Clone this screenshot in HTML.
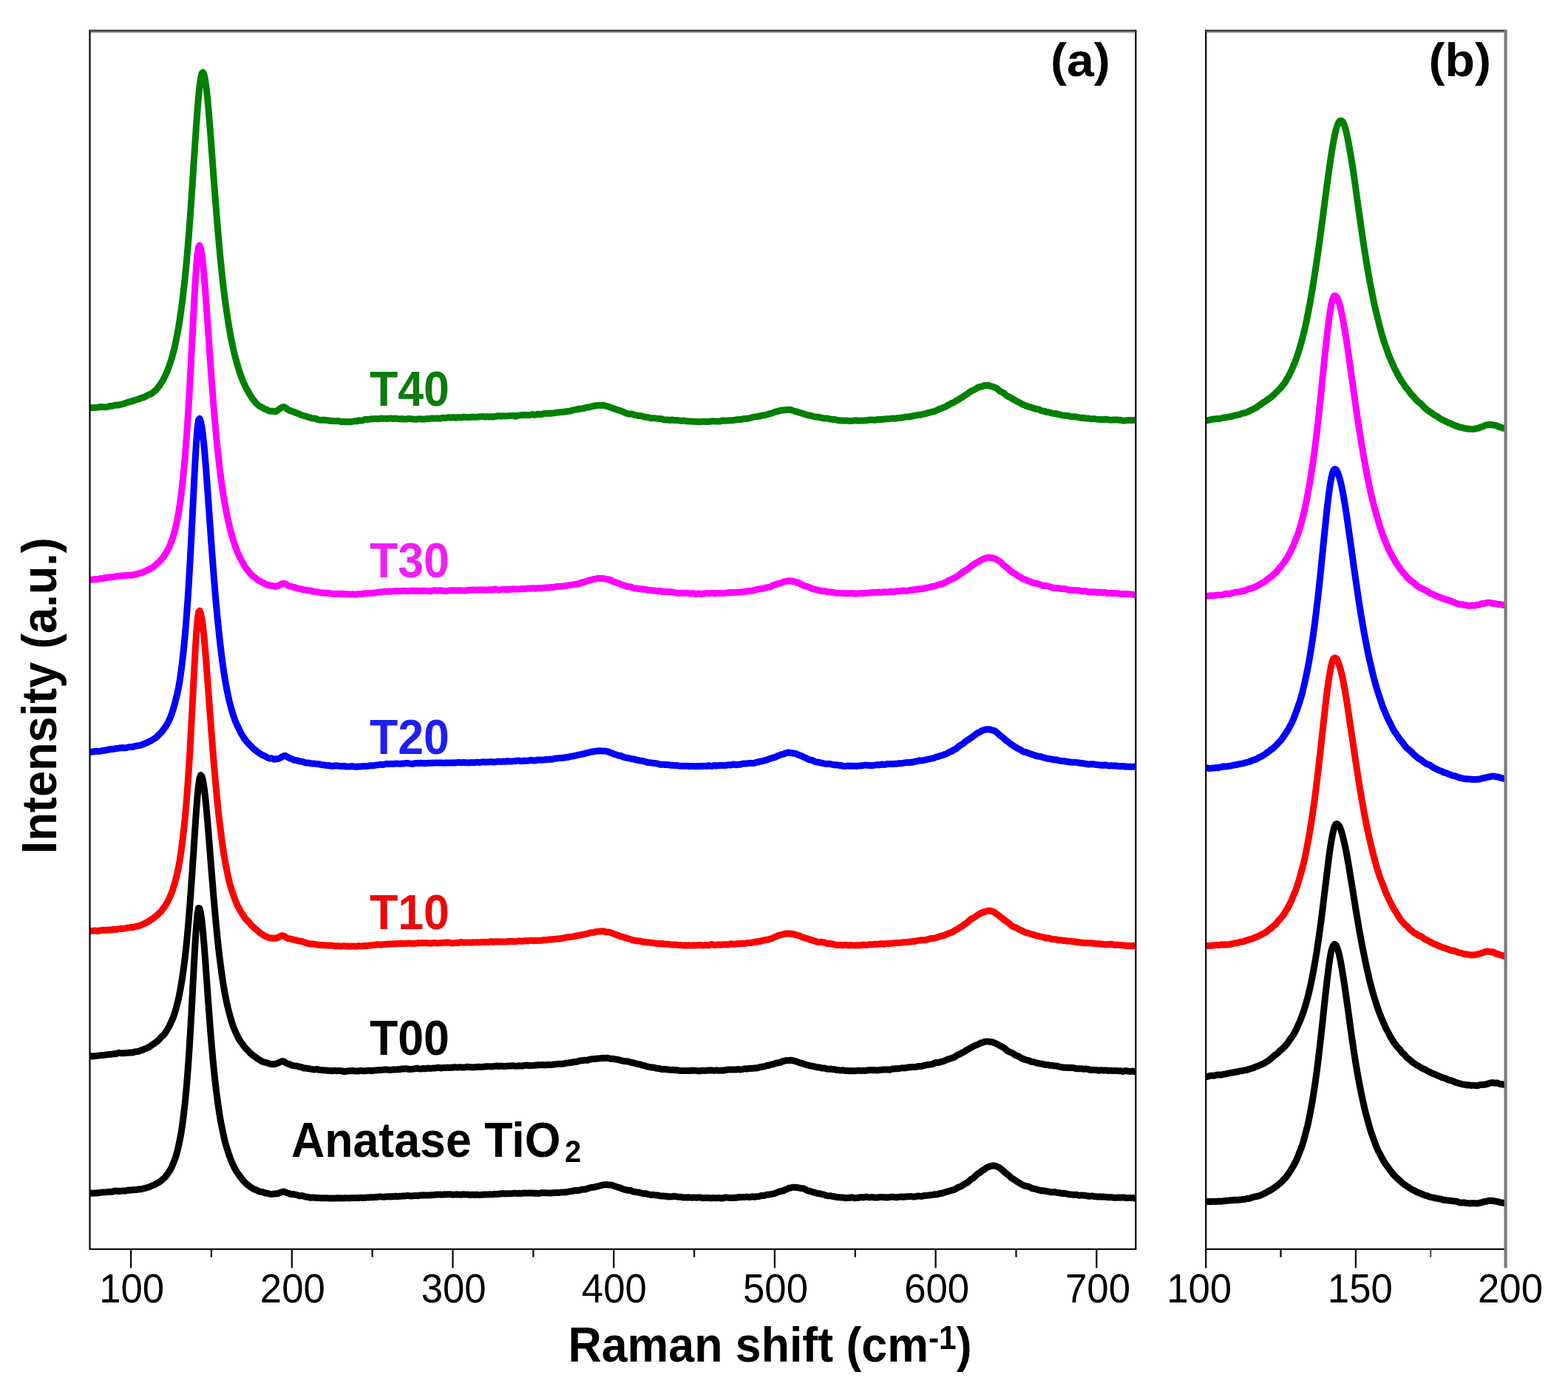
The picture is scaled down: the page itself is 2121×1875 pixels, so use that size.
<!DOCTYPE html>
<html lang="en">
<head>
<meta charset="utf-8">
<title>Raman spectra</title>
<style>
html,body{margin:0;padding:0;background:#fff;}
body{width:2121px;height:1875px;overflow:hidden;font-family:"Liberation Sans",Arial,sans-serif;}
svg{display:block;}
</style>
</head>
<body>
<svg xmlns="http://www.w3.org/2000/svg" width="2121" height="1875" viewBox="0 0 2121 1875">
<defs>
<clipPath id="ca"><rect x="121.5" y="41.5" width="1414.8" height="1648.4"/></clipPath>
<clipPath id="cb"><rect x="1631.2" y="41.5" width="405.39999999999986" height="1648.4"/></clipPath>
</defs>
<rect width="2121" height="1875" fill="#fff"/>
<g clip-path="url(#ca)" fill="none" stroke-width="9.0" stroke-linejoin="round" stroke-linecap="butt">
<path stroke="#000000" d="M118.5 1614.6L120.0 1614.6L121.5 1614.3L123.0 1614.1L124.5 1614.2L126.0 1614.2L127.5 1614.0L129.0 1614.0L130.5 1613.9L132.0 1613.8L133.5 1613.7L135.0 1613.5L136.5 1613.2L138.0 1613.1L139.5 1613.1L141.0 1613.1L142.5 1612.9L144.0 1612.6L145.5 1612.4L147.0 1612.4L148.5 1612.3L150.0 1612.3L151.5 1612.4L153.0 1612.0L154.5 1611.2L156.0 1611.0L157.5 1611.3L159.0 1611.4L160.5 1611.3L162.0 1611.5L163.5 1611.4L165.0 1610.9L166.5 1610.9L168.0 1611.2L169.5 1611.1L171.0 1610.7L172.5 1610.3L174.0 1610.0L175.5 1610.2L177.0 1610.1L178.5 1609.8L180.0 1609.7L181.5 1609.6L183.0 1609.4L184.5 1609.4L186.0 1609.3L187.5 1609.0L189.0 1608.8L190.5 1608.7L192.0 1608.5L193.5 1608.0L195.0 1607.6L196.5 1607.3L198.0 1606.9L199.5 1606.5L201.0 1606.0L202.5 1605.6L204.0 1604.9L205.5 1604.1L207.0 1603.6L208.5 1603.1L210.0 1602.3L211.5 1601.3L213.0 1600.4L214.5 1599.7L216.0 1598.7L217.5 1597.7L219.0 1596.5L220.5 1594.9L222.0 1593.7L223.5 1592.3L225.0 1590.3L226.5 1588.3L228.0 1586.3L229.5 1584.1L231.0 1581.4L232.5 1578.2L234.0 1574.6L235.5 1571.0L237.0 1567.0L238.5 1562.4L240.0 1556.8L241.5 1550.3L243.0 1543.3L244.5 1535.7L246.0 1526.5L247.5 1515.7L249.0 1503.5L250.5 1489.8L252.0 1473.9L253.5 1455.9L255.0 1435.4L256.5 1412.4L258.0 1387.4L259.5 1360.2L261.0 1331.5L262.5 1303.1L264.0 1276.4L265.5 1253.3L267.0 1236.7L268.5 1228.5L270.0 1228.9L271.5 1234.8L273.0 1245.4L274.5 1259.9L276.0 1277.2L277.5 1296.4L279.0 1317.2L280.5 1338.7L282.0 1359.5L283.5 1379.4L285.0 1398.6L286.5 1416.6L288.0 1433.4L289.5 1448.7L291.0 1462.6L292.5 1475.4L294.0 1487.1L295.5 1497.8L297.0 1507.8L298.5 1516.7L300.0 1524.1L301.5 1531.3L303.0 1538.7L304.5 1545.1L306.0 1550.2L307.5 1555.0L309.0 1559.9L310.5 1564.2L312.0 1568.1L313.5 1571.9L315.0 1575.4L316.5 1578.5L318.0 1581.3L319.5 1583.9L321.0 1586.3L322.5 1588.6L324.0 1590.7L325.5 1592.7L327.0 1594.5L328.5 1596.4L330.0 1598.3L331.5 1599.8L333.0 1601.1L334.5 1602.5L336.0 1603.6L337.5 1604.8L339.0 1606.0L340.5 1606.9L342.0 1607.7L343.5 1608.7L345.0 1609.3L346.5 1609.8L348.0 1610.4L349.5 1611.3L351.0 1612.0L352.5 1612.3L354.0 1612.4L355.5 1612.7L357.0 1613.4L358.5 1614.0L360.0 1614.1L361.5 1614.3L363.0 1614.7L364.5 1615.1L366.0 1615.4L367.5 1615.6L369.0 1615.4L370.5 1615.1L372.0 1615.1L373.5 1615.0L375.0 1614.8L376.5 1614.4L378.0 1613.8L379.5 1613.2L381.0 1612.8L382.5 1612.3L384.0 1612.1L385.5 1612.6L387.0 1613.3L388.5 1613.8L390.0 1614.1L391.5 1614.7L393.0 1615.6L394.5 1615.7L396.0 1615.5L397.5 1615.7L399.0 1616.1L400.5 1616.3L402.0 1616.7L403.5 1617.2L405.0 1617.7L406.5 1617.7L408.0 1617.5L409.5 1617.8L411.0 1618.3L412.5 1618.8L414.0 1619.2L415.5 1619.2L417.0 1619.5L418.5 1620.1L420.0 1620.3L421.5 1620.0L423.0 1620.0L424.5 1620.2L426.0 1620.2L427.5 1620.4L429.0 1620.7L430.5 1620.6L432.0 1620.6L433.5 1620.8L435.0 1620.7L436.5 1620.7L438.0 1620.8L439.5 1620.7L441.0 1620.7L442.5 1620.8L444.0 1620.9L445.5 1621.0L447.0 1621.0L448.5 1621.1L450.0 1621.2L451.5 1621.1L453.0 1621.0L454.5 1620.9L456.0 1620.8L457.5 1620.8L459.0 1620.9L460.5 1620.8L462.0 1620.8L463.5 1621.1L465.0 1621.1L466.5 1620.7L468.0 1620.6L469.5 1620.8L471.0 1620.9L472.5 1620.7L474.0 1620.8L475.5 1620.6L477.0 1620.5L478.5 1620.6L480.0 1620.7L481.5 1620.5L483.0 1620.5L484.5 1620.7L486.0 1620.4L487.5 1620.1L489.0 1620.3L490.5 1620.4L492.0 1620.3L493.5 1620.2L495.0 1620.2L496.5 1620.1L498.0 1620.0L499.5 1620.0L501.0 1619.8L502.5 1619.7L504.0 1619.8L505.5 1619.8L507.0 1619.6L508.5 1619.5L510.0 1619.4L511.5 1619.1L513.0 1619.1L514.5 1619.1L516.0 1619.0L517.5 1619.1L519.0 1619.3L520.5 1619.2L522.0 1618.9L523.5 1618.8L525.0 1618.7L526.5 1618.7L528.0 1619.1L529.5 1618.8L531.0 1618.5L532.5 1618.7L534.0 1618.5L535.5 1618.2L537.0 1618.5L538.5 1618.6L540.0 1618.3L541.5 1618.2L543.0 1618.2L544.5 1618.1L546.0 1618.1L547.5 1618.1L549.0 1617.7L550.5 1617.6L552.0 1617.6L553.5 1617.7L555.0 1617.9L556.5 1617.9L558.0 1617.8L559.5 1617.7L561.0 1617.5L562.5 1617.4L564.0 1617.6L565.5 1617.7L567.0 1617.3L568.5 1617.0L570.0 1617.0L571.5 1616.9L573.0 1616.8L574.5 1616.9L576.0 1617.0L577.5 1617.1L579.0 1616.9L580.5 1616.9L582.0 1616.8L583.5 1616.8L585.0 1616.7L586.5 1616.4L588.0 1616.2L589.5 1616.2L591.0 1616.1L592.5 1616.0L594.0 1615.9L595.5 1616.0L597.0 1616.3L598.5 1616.2L600.0 1615.9L601.5 1615.8L603.0 1615.9L604.5 1615.8L606.0 1615.7L607.5 1615.7L609.0 1615.8L610.5 1615.9L612.0 1616.2L613.5 1616.2L615.0 1616.1L616.5 1615.9L618.0 1615.8L619.5 1615.9L621.0 1616.1L622.5 1616.2L624.0 1616.2L625.5 1615.8L627.0 1615.8L628.5 1616.0L630.0 1616.0L631.5 1616.0L633.0 1616.0L634.5 1616.3L636.0 1616.5L637.5 1616.3L639.0 1616.1L640.5 1616.3L642.0 1616.5L643.5 1616.3L645.0 1616.1L646.5 1616.4L648.0 1616.5L649.5 1616.4L651.0 1616.3L652.5 1616.2L654.0 1616.0L655.5 1616.0L657.0 1616.0L658.5 1616.1L660.0 1616.1L661.5 1615.8L663.0 1615.7L664.5 1615.8L666.0 1615.9L667.5 1615.7L669.0 1615.3L670.5 1615.4L672.0 1615.7L673.5 1615.6L675.0 1615.0L676.5 1614.9L678.0 1615.1L679.5 1614.7L681.0 1614.6L682.5 1614.9L684.0 1614.9L685.5 1614.7L687.0 1614.7L688.5 1614.8L690.0 1614.8L691.5 1614.7L693.0 1614.6L694.5 1614.3L696.0 1614.2L697.5 1614.4L699.0 1614.6L700.5 1614.5L702.0 1614.3L703.5 1614.4L705.0 1614.5L706.5 1614.3L708.0 1614.2L709.5 1614.0L711.0 1613.9L712.5 1614.1L714.0 1614.2L715.5 1614.1L717.0 1614.1L718.5 1613.9L720.0 1613.9L721.5 1614.2L723.0 1614.4L724.5 1614.1L726.0 1614.2L727.5 1614.4L729.0 1614.4L730.5 1614.3L732.0 1613.8L733.5 1613.6L735.0 1613.8L736.5 1613.8L738.0 1613.7L739.5 1613.8L741.0 1614.1L742.5 1614.1L744.0 1613.9L745.5 1613.9L747.0 1613.8L748.5 1613.7L750.0 1613.6L751.5 1613.6L753.0 1613.6L754.5 1613.5L756.0 1613.4L757.5 1613.3L759.0 1613.1L760.5 1613.0L762.0 1613.1L763.5 1613.0L765.0 1612.8L766.5 1612.7L768.0 1612.4L769.5 1611.9L771.0 1611.7L772.5 1611.7L774.0 1611.4L775.5 1610.9L777.0 1610.6L778.5 1610.4L780.0 1610.4L781.5 1610.6L783.0 1610.5L784.5 1610.1L786.0 1609.6L787.5 1609.2L789.0 1609.1L790.5 1609.1L792.0 1609.0L793.5 1608.5L795.0 1607.8L796.5 1607.4L798.0 1606.9L799.5 1606.5L801.0 1606.2L802.5 1606.2L804.0 1606.0L805.5 1605.5L807.0 1605.3L808.5 1604.9L810.0 1604.4L811.5 1604.1L813.0 1603.7L814.5 1603.2L816.0 1603.0L817.5 1602.8L819.0 1602.7L820.5 1602.6L822.0 1602.8L823.5 1602.9L825.0 1602.9L826.5 1603.1L828.0 1603.4L829.5 1604.0L831.0 1604.6L832.5 1605.1L834.0 1605.6L835.5 1606.0L837.0 1606.3L838.5 1606.8L840.0 1607.5L841.5 1608.1L843.0 1608.7L844.5 1609.2L846.0 1609.4L847.5 1609.8L849.0 1610.2L850.5 1610.3L852.0 1610.3L853.5 1610.7L855.0 1611.4L856.5 1612.0L858.0 1612.2L859.5 1612.4L861.0 1612.7L862.5 1612.9L864.0 1613.0L865.5 1613.5L867.0 1613.9L868.5 1614.2L870.0 1614.7L871.5 1614.7L873.0 1614.6L874.5 1615.1L876.0 1615.6L877.5 1615.8L879.0 1616.1L880.5 1616.4L882.0 1616.3L883.5 1616.3L885.0 1616.6L886.5 1617.0L888.0 1616.9L889.5 1616.9L891.0 1617.3L892.5 1617.7L894.0 1617.9L895.5 1617.9L897.0 1617.9L898.5 1618.2L900.0 1618.2L901.5 1618.2L903.0 1618.8L904.5 1619.0L906.0 1618.7L907.5 1618.7L909.0 1618.9L910.5 1618.5L912.0 1618.3L913.5 1618.5L915.0 1618.8L916.5 1619.1L918.0 1619.3L919.5 1619.3L921.0 1619.2L922.5 1619.6L924.0 1620.1L925.5 1620.1L927.0 1620.0L928.5 1619.9L930.0 1619.9L931.5 1619.8L933.0 1619.9L934.5 1620.1L936.0 1620.2L937.5 1620.1L939.0 1619.9L940.5 1620.1L942.0 1620.3L943.5 1620.0L945.0 1619.9L946.5 1619.9L948.0 1620.0L949.5 1620.5L951.0 1620.8L952.5 1620.7L954.0 1620.5L955.5 1620.4L957.0 1620.4L958.5 1620.4L960.0 1620.7L961.5 1620.9L963.0 1620.7L964.5 1620.5L966.0 1620.5L967.5 1620.7L969.0 1620.9L970.5 1620.6L972.0 1620.3L973.5 1620.7L975.0 1621.1L976.5 1621.0L978.0 1620.8L979.5 1620.5L981.0 1620.0L982.5 1619.9L984.0 1620.1L985.5 1620.4L987.0 1620.6L988.5 1620.6L990.0 1620.6L991.5 1620.6L993.0 1620.4L994.5 1620.3L996.0 1620.3L997.5 1619.9L999.0 1619.5L1000.5 1619.7L1002.0 1619.7L1003.5 1619.4L1005.0 1619.6L1006.5 1619.6L1008.0 1619.3L1009.5 1619.2L1011.0 1619.3L1012.5 1619.5L1014.0 1619.6L1015.5 1619.3L1017.0 1618.8L1018.5 1618.8L1020.0 1619.2L1021.5 1619.2L1023.0 1618.9L1024.5 1618.7L1026.0 1618.7L1027.5 1618.2L1029.0 1617.7L1030.5 1617.3L1032.0 1617.4L1033.5 1617.5L1035.0 1616.9L1036.5 1616.5L1038.0 1616.2L1039.5 1616.1L1041.0 1616.0L1042.5 1615.6L1044.0 1615.4L1045.5 1615.1L1047.0 1614.7L1048.5 1614.4L1050.0 1613.8L1051.5 1613.0L1053.0 1612.3L1054.5 1611.9L1056.0 1611.5L1057.5 1611.3L1059.0 1611.1L1060.5 1610.5L1062.0 1609.4L1063.5 1608.9L1065.0 1608.4L1066.5 1607.5L1068.0 1607.2L1069.5 1607.0L1071.0 1606.5L1072.5 1606.2L1074.0 1606.2L1075.5 1606.3L1077.0 1606.4L1078.5 1606.5L1080.0 1606.8L1081.5 1607.1L1083.0 1607.5L1084.5 1607.6L1086.0 1607.7L1087.5 1608.1L1089.0 1608.8L1090.5 1609.7L1092.0 1610.6L1093.5 1611.0L1095.0 1611.2L1096.5 1611.6L1098.0 1612.2L1099.5 1612.7L1101.0 1613.0L1102.5 1613.3L1104.0 1614.0L1105.5 1614.4L1107.0 1614.5L1108.5 1614.7L1110.0 1615.1L1111.5 1615.6L1113.0 1615.8L1114.5 1615.9L1116.0 1616.7L1117.5 1617.4L1119.0 1617.6L1120.5 1617.8L1122.0 1617.7L1123.5 1617.7L1125.0 1618.2L1126.5 1618.5L1128.0 1618.6L1129.5 1619.1L1131.0 1619.4L1132.5 1619.5L1134.0 1619.7L1135.5 1619.8L1137.0 1619.9L1138.5 1620.0L1140.0 1620.0L1141.5 1620.2L1143.0 1620.5L1144.5 1620.7L1146.0 1620.6L1147.5 1620.3L1149.0 1620.3L1150.5 1620.2L1152.0 1619.8L1153.5 1620.0L1155.0 1620.5L1156.5 1620.7L1158.0 1620.6L1159.5 1620.4L1161.0 1620.3L1162.5 1620.0L1164.0 1619.7L1165.5 1619.7L1167.0 1619.8L1168.5 1619.9L1170.0 1619.5L1171.5 1619.1L1173.0 1619.2L1174.5 1619.7L1176.0 1619.9L1177.5 1619.7L1179.0 1619.4L1180.5 1619.5L1182.0 1619.9L1183.5 1619.9L1185.0 1620.1L1186.5 1620.2L1188.0 1619.9L1189.5 1619.6L1191.0 1619.5L1192.5 1619.5L1194.0 1619.6L1195.5 1619.7L1197.0 1619.8L1198.5 1620.0L1200.0 1620.0L1201.5 1619.8L1203.0 1619.7L1204.5 1619.4L1206.0 1619.2L1207.5 1619.2L1209.0 1619.3L1210.5 1619.6L1212.0 1619.8L1213.5 1619.7L1215.0 1619.5L1216.5 1619.3L1218.0 1619.1L1219.5 1619.0L1221.0 1619.2L1222.5 1619.2L1224.0 1619.0L1225.5 1618.9L1227.0 1618.7L1228.5 1618.7L1230.0 1618.7L1231.5 1618.6L1233.0 1618.6L1234.5 1618.9L1236.0 1619.0L1237.5 1618.9L1239.0 1618.6L1240.5 1618.2L1242.0 1618.1L1243.5 1618.1L1245.0 1618.3L1246.5 1618.4L1248.0 1618.1L1249.5 1617.7L1251.0 1617.6L1252.5 1617.4L1254.0 1617.2L1255.5 1617.1L1257.0 1617.1L1258.5 1616.7L1260.0 1616.6L1261.5 1616.4L1263.0 1616.0L1264.5 1615.8L1266.0 1615.9L1267.5 1615.8L1269.0 1615.5L1270.5 1614.7L1272.0 1614.3L1273.5 1614.5L1275.0 1614.2L1276.5 1613.5L1278.0 1613.0L1279.5 1612.6L1281.0 1612.2L1282.5 1611.7L1284.0 1611.2L1285.5 1610.7L1287.0 1610.2L1288.5 1610.0L1290.0 1609.8L1291.5 1609.0L1293.0 1608.3L1294.5 1607.3L1296.0 1606.3L1297.5 1605.7L1299.0 1605.2L1300.5 1604.6L1302.0 1603.7L1303.5 1602.5L1305.0 1601.5L1306.5 1600.8L1308.0 1600.2L1309.5 1599.1L1311.0 1597.6L1312.5 1596.1L1314.0 1595.1L1315.5 1594.4L1317.0 1593.2L1318.5 1591.8L1320.0 1590.4L1321.5 1588.8L1323.0 1587.7L1324.5 1587.1L1326.0 1586.0L1327.5 1584.6L1329.0 1583.4L1330.5 1582.7L1332.0 1581.7L1333.5 1580.5L1335.0 1579.5L1336.5 1578.9L1338.0 1578.3L1339.5 1577.8L1341.0 1577.3L1342.5 1577.0L1344.0 1577.0L1345.5 1577.1L1347.0 1577.5L1348.5 1578.1L1350.0 1578.9L1351.5 1579.6L1353.0 1580.6L1354.5 1581.9L1356.0 1583.0L1357.5 1584.2L1359.0 1585.7L1360.5 1587.0L1362.0 1588.2L1363.5 1589.4L1365.0 1590.5L1366.5 1592.1L1368.0 1593.5L1369.5 1594.4L1371.0 1595.2L1372.5 1596.3L1374.0 1597.3L1375.5 1598.3L1377.0 1599.2L1378.5 1600.1L1380.0 1601.1L1381.5 1601.9L1383.0 1602.7L1384.5 1603.5L1386.0 1604.2L1387.5 1604.6L1389.0 1604.8L1390.5 1605.1L1392.0 1605.5L1393.5 1606.3L1395.0 1607.1L1396.5 1607.8L1398.0 1608.1L1399.5 1608.3L1401.0 1608.6L1402.5 1609.1L1404.0 1609.7L1405.5 1610.0L1407.0 1610.3L1408.5 1610.9L1410.0 1610.8L1411.5 1610.7L1413.0 1611.1L1414.5 1611.5L1416.0 1611.6L1417.5 1611.8L1419.0 1612.2L1420.5 1612.5L1422.0 1612.8L1423.5 1612.9L1425.0 1612.6L1426.5 1612.6L1428.0 1612.9L1429.5 1613.3L1431.0 1613.6L1432.5 1613.7L1434.0 1613.8L1435.5 1614.3L1437.0 1614.5L1438.5 1614.3L1440.0 1614.5L1441.5 1614.8L1443.0 1615.0L1444.5 1615.3L1446.0 1615.8L1447.5 1616.0L1449.0 1615.9L1450.5 1616.0L1452.0 1616.4L1453.5 1616.4L1455.0 1616.2L1456.5 1616.3L1458.0 1616.8L1459.5 1617.2L1461.0 1617.2L1462.5 1616.9L1464.0 1616.9L1465.5 1617.2L1467.0 1617.3L1468.5 1617.4L1470.0 1617.8L1471.5 1617.9L1473.0 1618.3L1474.5 1618.3L1476.0 1618.1L1477.5 1618.1L1479.0 1618.2L1480.5 1618.6L1482.0 1618.8L1483.5 1618.8L1485.0 1619.1L1486.5 1619.0L1488.0 1618.8L1489.5 1619.1L1491.0 1619.2L1492.5 1619.1L1494.0 1619.1L1495.5 1619.3L1497.0 1619.6L1498.5 1619.7L1500.0 1619.7L1501.5 1619.8L1503.0 1619.6L1504.5 1619.8L1506.0 1620.2L1507.5 1620.3L1509.0 1620.3L1510.5 1620.2L1512.0 1620.0L1513.5 1620.1L1515.0 1620.2L1516.5 1620.1L1518.0 1620.0L1519.5 1620.0L1521.0 1620.1L1522.5 1620.4L1524.0 1620.7L1525.5 1620.6L1527.0 1620.4L1528.5 1620.6L1530.0 1620.6L1531.5 1620.4L1533.0 1620.7L1534.5 1621.0L1536.0 1621.1L1537.5 1621.2L1539.0 1621.3L1540.5 1621.2"/>
<path stroke="#000000" d="M118.5 1429.1L120.0 1428.9L121.5 1428.6L123.0 1428.5L124.5 1429.0L126.0 1429.1L127.5 1428.7L129.0 1428.6L130.5 1428.4L132.0 1428.2L133.5 1428.1L135.0 1427.9L136.5 1427.6L138.0 1427.4L139.5 1427.4L141.0 1427.3L142.5 1427.1L144.0 1426.8L145.5 1426.6L147.0 1426.4L148.5 1426.4L150.0 1426.3L151.5 1426.1L153.0 1425.8L154.5 1425.5L156.0 1425.7L157.5 1425.6L159.0 1424.8L160.5 1424.3L162.0 1424.4L163.5 1424.7L165.0 1424.8L166.5 1424.8L168.0 1424.7L169.5 1424.5L171.0 1424.4L172.5 1424.3L174.0 1424.2L175.5 1423.9L177.0 1423.8L178.5 1424.0L180.0 1423.9L181.5 1423.3L183.0 1422.8L184.5 1422.7L186.0 1422.6L187.5 1422.3L189.0 1421.7L190.5 1421.0L192.0 1420.7L193.5 1420.2L195.0 1419.2L196.5 1418.7L198.0 1418.2L199.5 1417.4L201.0 1416.8L202.5 1416.1L204.0 1414.9L205.5 1413.6L207.0 1412.7L208.5 1411.8L210.0 1410.7L211.5 1409.5L213.0 1408.4L214.5 1407.1L216.0 1405.4L217.5 1403.6L219.0 1402.1L220.5 1400.9L222.0 1399.4L223.5 1397.4L225.0 1395.0L226.5 1392.5L228.0 1390.0L229.5 1387.1L231.0 1383.7L232.5 1380.5L234.0 1377.2L235.5 1373.0L237.0 1368.2L238.5 1362.9L240.0 1357.1L241.5 1350.9L243.0 1343.7L244.5 1335.5L246.0 1326.5L247.5 1316.6L249.0 1305.6L250.5 1293.3L252.0 1279.4L253.5 1264.1L255.0 1247.0L256.5 1228.4L258.0 1208.3L259.5 1186.9L261.0 1164.5L262.5 1141.4L264.0 1118.5L265.5 1096.9L267.0 1077.7L268.5 1062.4L270.0 1052.5L271.5 1048.5L273.0 1050.1L274.5 1055.7L276.0 1064.9L277.5 1076.9L279.0 1091.7L280.5 1108.7L282.0 1126.7L283.5 1145.5L285.0 1164.6L286.5 1183.4L288.0 1201.8L289.5 1219.8L291.0 1236.7L292.5 1252.7L294.0 1268.1L295.5 1282.1L297.0 1294.7L298.5 1306.5L300.0 1317.6L301.5 1327.8L303.0 1337.2L304.5 1345.7L306.0 1353.1L307.5 1360.0L309.0 1366.3L310.5 1372.1L312.0 1377.5L313.5 1382.6L315.0 1387.3L316.5 1391.3L318.0 1394.7L319.5 1398.0L321.0 1401.3L322.5 1404.4L324.0 1406.9L325.5 1409.1L327.0 1411.1L328.5 1413.2L330.0 1415.3L331.5 1417.2L333.0 1418.9L334.5 1420.4L336.0 1422.0L337.5 1423.6L339.0 1425.2L340.5 1426.5L342.0 1427.6L343.5 1428.6L345.0 1429.7L346.5 1430.7L348.0 1431.8L349.5 1432.9L351.0 1433.8L352.5 1434.8L354.0 1435.7L355.5 1436.4L357.0 1436.8L358.5 1437.1L360.0 1437.6L361.5 1438.1L363.0 1438.4L364.5 1439.0L366.0 1439.3L367.5 1439.5L369.0 1439.8L370.5 1439.8L372.0 1439.4L373.5 1438.9L375.0 1438.5L376.5 1437.9L378.0 1437.0L379.5 1436.5L381.0 1435.9L382.5 1435.5L384.0 1436.0L385.5 1437.0L387.0 1438.1L388.5 1438.9L390.0 1439.2L391.5 1439.7L393.0 1440.4L394.5 1441.0L396.0 1441.6L397.5 1441.8L399.0 1441.9L400.5 1442.0L402.0 1442.2L403.5 1442.7L405.0 1443.3L406.5 1443.4L408.0 1443.7L409.5 1444.4L411.0 1444.9L412.5 1444.9L414.0 1445.0L415.5 1445.4L417.0 1445.5L418.5 1445.8L420.0 1446.2L421.5 1446.4L423.0 1446.6L424.5 1446.9L426.0 1446.9L427.5 1446.5L429.0 1446.5L430.5 1447.1L432.0 1447.6L433.5 1447.6L435.0 1447.5L436.5 1447.7L438.0 1447.9L439.5 1448.0L441.0 1447.9L442.5 1448.0L444.0 1448.4L445.5 1448.4L447.0 1448.3L448.5 1448.7L450.0 1448.7L451.5 1448.2L453.0 1448.2L454.5 1448.6L456.0 1448.7L457.5 1448.4L459.0 1448.4L460.5 1448.8L462.0 1448.8L463.5 1449.0L465.0 1449.6L466.5 1449.7L468.0 1449.3L469.5 1449.0L471.0 1448.8L472.5 1448.6L474.0 1448.7L475.5 1448.7L477.0 1448.5L478.5 1448.6L480.0 1448.9L481.5 1449.1L483.0 1449.1L484.5 1449.0L486.0 1448.7L487.5 1448.4L489.0 1448.3L490.5 1448.6L492.0 1448.9L493.5 1448.8L495.0 1448.7L496.5 1448.4L498.0 1448.3L499.5 1448.2L501.0 1448.3L502.5 1448.7L504.0 1448.6L505.5 1448.1L507.0 1447.9L508.5 1447.9L510.0 1447.8L511.5 1447.8L513.0 1447.6L514.5 1447.5L516.0 1447.4L517.5 1447.3L519.0 1447.1L520.5 1447.0L522.0 1447.0L523.5 1447.1L525.0 1447.2L526.5 1447.4L528.0 1447.5L529.5 1447.4L531.0 1447.1L532.5 1447.0L534.0 1447.0L535.5 1447.1L537.0 1446.9L538.5 1446.6L540.0 1446.7L541.5 1446.6L543.0 1446.0L544.5 1446.0L546.0 1446.1L547.5 1445.8L549.0 1445.8L550.5 1446.0L552.0 1446.3L553.5 1446.5L555.0 1446.6L556.5 1446.4L558.0 1446.2L559.5 1446.1L561.0 1445.8L562.5 1445.5L564.0 1445.2L565.5 1445.5L567.0 1445.9L568.5 1446.1L570.0 1445.9L571.5 1445.6L573.0 1445.5L574.5 1445.8L576.0 1445.7L577.5 1445.3L579.0 1445.1L580.5 1445.2L582.0 1445.4L583.5 1445.3L585.0 1445.1L586.5 1445.1L588.0 1445.1L589.5 1444.8L591.0 1444.5L592.5 1444.3L594.0 1444.3L595.5 1444.9L597.0 1445.0L598.5 1444.5L600.0 1444.5L601.5 1444.5L603.0 1444.4L604.5 1444.3L606.0 1444.3L607.5 1444.4L609.0 1444.3L610.5 1444.3L612.0 1444.3L613.5 1444.0L615.0 1443.7L616.5 1443.9L618.0 1444.1L619.5 1444.1L621.0 1443.9L622.5 1443.7L624.0 1443.9L625.5 1444.0L627.0 1444.0L628.5 1444.1L630.0 1443.7L631.5 1443.3L633.0 1443.3L634.5 1443.6L636.0 1443.7L637.5 1443.7L639.0 1443.8L640.5 1443.9L642.0 1443.7L643.5 1443.4L645.0 1443.4L646.5 1443.4L648.0 1443.2L649.5 1443.4L651.0 1443.6L652.5 1443.4L654.0 1443.1L655.5 1442.9L657.0 1442.8L658.5 1442.7L660.0 1442.8L661.5 1442.7L663.0 1442.7L664.5 1442.9L666.0 1442.8L667.5 1442.6L669.0 1442.5L670.5 1442.1L672.0 1441.9L673.5 1442.3L675.0 1442.5L676.5 1442.3L678.0 1442.1L679.5 1442.2L681.0 1442.4L682.5 1442.5L684.0 1442.4L685.5 1442.2L687.0 1442.0L688.5 1441.9L690.0 1442.0L691.5 1442.0L693.0 1441.8L694.5 1441.7L696.0 1442.1L697.5 1442.3L699.0 1442.1L700.5 1441.9L702.0 1441.8L703.5 1441.9L705.0 1442.1L706.5 1442.1L708.0 1441.7L709.5 1441.3L711.0 1441.2L712.5 1441.1L714.0 1441.2L715.5 1441.6L717.0 1441.5L718.5 1441.4L720.0 1441.6L721.5 1441.4L723.0 1441.1L724.5 1441.2L726.0 1441.1L727.5 1440.7L729.0 1440.6L730.5 1440.8L732.0 1440.8L733.5 1440.5L735.0 1440.8L736.5 1440.9L738.0 1440.7L739.5 1440.6L741.0 1440.5L742.5 1440.3L744.0 1440.4L745.5 1440.5L747.0 1440.2L748.5 1440.1L750.0 1440.1L751.5 1439.8L753.0 1439.6L754.5 1439.3L756.0 1439.3L757.5 1439.4L759.0 1439.2L760.5 1439.2L762.0 1439.3L763.5 1438.8L765.0 1438.3L766.5 1438.1L768.0 1437.9L769.5 1437.8L771.0 1437.6L772.5 1437.5L774.0 1437.2L775.5 1436.7L777.0 1436.5L778.5 1436.5L780.0 1436.5L781.5 1436.0L783.0 1435.3L784.5 1434.9L786.0 1434.8L787.5 1434.8L789.0 1434.5L790.5 1434.3L792.0 1434.2L793.5 1434.3L795.0 1434.2L796.5 1433.6L798.0 1433.2L799.5 1433.0L801.0 1432.6L802.5 1432.4L804.0 1432.4L805.5 1432.5L807.0 1432.2L808.5 1432.0L810.0 1431.9L811.5 1431.8L813.0 1431.6L814.5 1431.4L816.0 1431.3L817.5 1431.4L819.0 1431.4L820.5 1431.2L822.0 1431.3L823.5 1431.7L825.0 1432.1L826.5 1432.4L828.0 1432.3L829.5 1432.4L831.0 1432.6L832.5 1433.0L834.0 1433.3L835.5 1433.4L837.0 1433.8L838.5 1434.2L840.0 1434.6L841.5 1435.0L843.0 1435.4L844.5 1435.7L846.0 1435.8L847.5 1435.8L849.0 1435.9L850.5 1436.3L852.0 1436.8L853.5 1437.3L855.0 1437.5L856.5 1437.7L858.0 1438.3L859.5 1438.6L861.0 1438.9L862.5 1439.5L864.0 1439.8L865.5 1439.8L867.0 1440.3L868.5 1441.0L870.0 1441.3L871.5 1441.6L873.0 1442.1L874.5 1442.7L876.0 1442.9L877.5 1443.3L879.0 1443.6L880.5 1443.8L882.0 1444.0L883.5 1444.2L885.0 1444.3L886.5 1444.7L888.0 1445.2L889.5 1445.3L891.0 1445.4L892.5 1445.7L894.0 1446.4L895.5 1446.6L897.0 1446.4L898.5 1446.3L900.0 1446.4L901.5 1446.8L903.0 1446.9L904.5 1447.0L906.0 1447.4L907.5 1447.5L909.0 1447.3L910.5 1447.3L912.0 1447.5L913.5 1447.7L915.0 1447.7L916.5 1447.7L918.0 1448.2L919.5 1448.4L921.0 1448.6L922.5 1448.6L924.0 1448.4L925.5 1448.5L927.0 1448.6L928.5 1448.6L930.0 1448.5L931.5 1448.4L933.0 1448.4L934.5 1448.3L936.0 1448.2L937.5 1448.1L939.0 1448.3L940.5 1448.3L942.0 1448.4L943.5 1448.5L945.0 1448.8L946.5 1449.0L948.0 1448.6L949.5 1448.2L951.0 1448.3L952.5 1448.4L954.0 1448.4L955.5 1448.2L957.0 1448.1L958.5 1448.1L960.0 1447.9L961.5 1447.8L963.0 1447.9L964.5 1448.2L966.0 1448.3L967.5 1448.1L969.0 1448.0L970.5 1448.1L972.0 1448.3L973.5 1448.3L975.0 1448.1L976.5 1448.0L978.0 1448.2L979.5 1448.1L981.0 1447.7L982.5 1447.4L984.0 1447.1L985.5 1447.1L987.0 1447.1L988.5 1447.1L990.0 1447.1L991.5 1447.1L993.0 1447.1L994.5 1447.1L996.0 1447.0L997.5 1446.6L999.0 1446.6L1000.5 1446.9L1002.0 1446.9L1003.5 1446.6L1005.0 1446.3L1006.5 1445.9L1008.0 1445.7L1009.5 1446.0L1011.0 1446.1L1012.5 1445.6L1014.0 1445.5L1015.5 1445.6L1017.0 1445.2L1018.5 1445.2L1020.0 1445.1L1021.5 1444.8L1023.0 1444.9L1024.5 1444.8L1026.0 1444.2L1027.5 1443.7L1029.0 1443.5L1030.5 1443.1L1032.0 1442.9L1033.5 1443.0L1035.0 1442.5L1036.5 1441.7L1038.0 1441.5L1039.5 1441.4L1041.0 1440.9L1042.5 1440.3L1044.0 1440.0L1045.5 1439.8L1047.0 1439.4L1048.5 1438.7L1050.0 1438.1L1051.5 1438.0L1053.0 1437.7L1054.5 1437.5L1056.0 1437.2L1057.5 1436.2L1059.0 1435.5L1060.5 1435.4L1062.0 1435.1L1063.5 1434.6L1065.0 1434.6L1066.5 1434.8L1068.0 1434.5L1069.5 1434.3L1071.0 1434.5L1072.5 1434.8L1074.0 1435.2L1075.5 1435.5L1077.0 1435.9L1078.5 1436.5L1080.0 1437.0L1081.5 1437.7L1083.0 1438.2L1084.5 1438.4L1086.0 1438.8L1087.5 1439.5L1089.0 1440.0L1090.5 1440.4L1092.0 1440.7L1093.5 1441.2L1095.0 1441.6L1096.5 1442.0L1098.0 1442.1L1099.5 1442.4L1101.0 1442.8L1102.5 1443.0L1104.0 1443.4L1105.5 1443.8L1107.0 1443.9L1108.5 1444.0L1110.0 1444.4L1111.5 1445.0L1113.0 1445.1L1114.5 1444.9L1116.0 1445.2L1117.5 1445.9L1119.0 1446.2L1120.5 1446.2L1122.0 1446.2L1123.5 1446.1L1125.0 1446.4L1126.5 1446.7L1128.0 1446.5L1129.5 1446.8L1131.0 1447.4L1132.5 1447.6L1134.0 1447.6L1135.5 1447.9L1137.0 1448.1L1138.5 1447.9L1140.0 1447.8L1141.5 1448.0L1143.0 1448.3L1144.5 1448.6L1146.0 1448.5L1147.5 1448.5L1149.0 1448.8L1150.5 1448.7L1152.0 1448.6L1153.5 1448.8L1155.0 1448.8L1156.5 1448.7L1158.0 1448.6L1159.5 1448.4L1161.0 1448.2L1162.5 1448.3L1164.0 1448.4L1165.5 1448.4L1167.0 1448.3L1168.5 1448.3L1170.0 1448.6L1171.5 1448.4L1173.0 1447.9L1174.5 1447.8L1176.0 1447.7L1177.5 1447.4L1179.0 1447.7L1180.5 1447.7L1182.0 1447.6L1183.5 1447.7L1185.0 1447.9L1186.5 1448.0L1188.0 1447.8L1189.5 1447.6L1191.0 1447.4L1192.5 1447.2L1194.0 1447.1L1195.5 1447.0L1197.0 1446.9L1198.5 1447.0L1200.0 1447.1L1201.5 1447.0L1203.0 1447.2L1204.5 1447.0L1206.0 1446.3L1207.5 1446.0L1209.0 1446.0L1210.5 1445.8L1212.0 1445.6L1213.5 1445.7L1215.0 1445.6L1216.5 1445.4L1218.0 1445.2L1219.5 1444.9L1221.0 1444.7L1222.5 1444.9L1224.0 1444.8L1225.5 1444.5L1227.0 1444.4L1228.5 1444.0L1230.0 1443.8L1231.5 1443.8L1233.0 1443.5L1234.5 1443.4L1236.0 1443.6L1237.5 1443.6L1239.0 1443.4L1240.5 1442.9L1242.0 1442.4L1243.5 1442.4L1245.0 1442.5L1246.5 1442.5L1248.0 1441.9L1249.5 1441.5L1251.0 1441.3L1252.5 1440.9L1254.0 1440.5L1255.5 1440.4L1257.0 1440.2L1258.5 1440.0L1260.0 1439.9L1261.5 1439.6L1263.0 1438.8L1264.5 1437.9L1266.0 1437.6L1267.5 1437.6L1269.0 1437.6L1270.5 1437.4L1272.0 1436.8L1273.5 1436.2L1275.0 1436.0L1276.5 1435.5L1278.0 1434.9L1279.5 1434.2L1281.0 1433.5L1282.5 1433.0L1284.0 1432.7L1285.5 1432.0L1287.0 1431.6L1288.5 1431.1L1290.0 1430.5L1291.5 1429.8L1293.0 1428.7L1294.5 1427.5L1296.0 1426.8L1297.5 1426.4L1299.0 1425.7L1300.5 1424.7L1302.0 1423.8L1303.5 1423.2L1305.0 1422.5L1306.5 1421.3L1308.0 1420.3L1309.5 1419.6L1311.0 1418.7L1312.5 1417.9L1314.0 1417.1L1315.5 1416.0L1317.0 1415.3L1318.5 1414.6L1320.0 1414.0L1321.5 1413.5L1323.0 1412.9L1324.5 1412.1L1326.0 1411.3L1327.5 1410.6L1329.0 1410.3L1330.5 1409.9L1332.0 1409.3L1333.5 1409.1L1335.0 1409.1L1336.5 1409.0L1338.0 1409.2L1339.5 1409.4L1341.0 1409.5L1342.5 1409.8L1344.0 1410.4L1345.5 1410.9L1347.0 1411.6L1348.5 1412.4L1350.0 1413.3L1351.5 1414.1L1353.0 1414.8L1354.5 1415.5L1356.0 1416.3L1357.5 1417.3L1359.0 1418.4L1360.5 1419.5L1362.0 1420.9L1363.5 1422.0L1365.0 1422.6L1366.5 1423.4L1368.0 1424.1L1369.5 1424.7L1371.0 1425.5L1372.5 1426.7L1374.0 1427.7L1375.5 1428.2L1377.0 1428.6L1378.5 1429.3L1380.0 1430.4L1381.5 1431.4L1383.0 1432.0L1384.5 1432.6L1386.0 1433.3L1387.5 1433.7L1389.0 1434.1L1390.5 1434.4L1392.0 1434.8L1393.5 1435.6L1395.0 1436.3L1396.5 1436.6L1398.0 1436.6L1399.5 1437.0L1401.0 1437.7L1402.5 1438.2L1404.0 1438.5L1405.5 1438.6L1407.0 1438.8L1408.5 1439.1L1410.0 1439.4L1411.5 1439.8L1413.0 1440.2L1414.5 1440.6L1416.0 1440.6L1417.5 1440.6L1419.0 1441.1L1420.5 1441.3L1422.0 1441.2L1423.5 1441.4L1425.0 1441.8L1426.5 1442.1L1428.0 1442.1L1429.5 1442.1L1431.0 1442.6L1432.5 1443.1L1434.0 1443.4L1435.5 1443.4L1437.0 1443.9L1438.5 1444.2L1440.0 1444.1L1441.5 1444.3L1443.0 1444.3L1444.5 1444.4L1446.0 1444.3L1447.5 1444.4L1449.0 1444.3L1450.5 1444.4L1452.0 1444.7L1453.5 1445.0L1455.0 1445.5L1456.5 1445.7L1458.0 1445.7L1459.5 1445.7L1461.0 1445.7L1462.5 1445.7L1464.0 1446.0L1465.5 1446.2L1467.0 1446.2L1468.5 1446.0L1470.0 1446.0L1471.5 1446.4L1473.0 1446.9L1474.5 1447.3L1476.0 1447.5L1477.5 1447.5L1479.0 1447.5L1480.5 1447.5L1482.0 1447.5L1483.5 1447.6L1485.0 1448.0L1486.5 1448.3L1488.0 1447.9L1489.5 1447.7L1491.0 1447.9L1492.5 1447.9L1494.0 1447.9L1495.5 1447.9L1497.0 1448.0L1498.5 1448.4L1500.0 1448.4L1501.5 1448.3L1503.0 1448.3L1504.5 1448.4L1506.0 1448.5L1507.5 1448.5L1509.0 1448.4L1510.5 1448.4L1512.0 1448.6L1513.5 1448.7L1515.0 1448.7L1516.5 1448.8L1518.0 1449.2L1519.5 1449.6L1521.0 1449.1L1522.5 1448.5L1524.0 1448.7L1525.5 1449.1L1527.0 1449.4L1528.5 1449.7L1530.0 1449.4L1531.5 1449.0L1533.0 1449.2L1534.5 1449.5L1536.0 1449.7L1537.5 1449.7L1539.0 1449.5L1540.5 1449.7"/>
<path stroke="#ff0000" d="M118.5 1260.0L120.0 1259.5L121.5 1259.5L123.0 1259.5L124.5 1259.4L126.0 1259.2L127.5 1258.9L129.0 1259.0L130.5 1259.3L132.0 1259.7L133.5 1259.4L135.0 1258.8L136.5 1258.7L138.0 1258.4L139.5 1258.3L141.0 1258.3L142.5 1258.4L144.0 1258.3L145.5 1258.3L147.0 1258.0L148.5 1258.0L150.0 1258.1L151.5 1257.8L153.0 1257.4L154.5 1257.2L156.0 1257.4L157.5 1257.4L159.0 1256.9L160.5 1256.7L162.0 1256.6L163.5 1256.3L165.0 1256.2L166.5 1256.3L168.0 1256.1L169.5 1255.9L171.0 1255.5L172.5 1255.0L174.0 1255.1L175.5 1254.8L177.0 1254.4L178.5 1254.5L180.0 1254.4L181.5 1253.9L183.0 1253.4L184.5 1253.2L186.0 1253.0L187.5 1252.8L189.0 1252.3L190.5 1251.6L192.0 1251.1L193.5 1250.2L195.0 1249.4L196.5 1248.9L198.0 1248.2L199.5 1247.2L201.0 1246.3L202.5 1245.3L204.0 1244.2L205.5 1243.6L207.0 1242.6L208.5 1241.2L210.0 1240.1L211.5 1239.0L213.0 1237.7L214.5 1236.0L216.0 1234.6L217.5 1233.5L219.0 1231.6L220.5 1229.3L222.0 1227.3L223.5 1225.3L225.0 1223.0L226.5 1220.4L228.0 1217.3L229.5 1214.0L231.0 1210.6L232.5 1207.0L234.0 1202.6L235.5 1197.5L237.0 1192.3L238.5 1186.8L240.0 1180.4L241.5 1173.0L243.0 1164.7L244.5 1155.2L246.0 1144.4L247.5 1132.5L249.0 1119.3L250.5 1104.3L252.0 1087.0L253.5 1067.7L255.0 1046.5L256.5 1022.8L258.0 996.7L259.5 968.4L261.0 939.1L262.5 910.2L264.0 882.7L265.5 858.4L267.0 839.5L268.5 828.4L270.0 826.2L271.5 829.6L273.0 836.9L274.5 847.7L276.0 861.6L277.5 878.2L279.0 896.6L280.5 916.4L282.0 937.1L283.5 957.6L285.0 977.5L286.5 996.9L288.0 1016.2L289.5 1034.8L291.0 1052.3L292.5 1068.7L294.0 1084.5L295.5 1099.1L297.0 1112.0L298.5 1124.3L300.0 1135.9L301.5 1146.7L303.0 1156.7L304.5 1165.6L306.0 1173.5L307.5 1180.8L309.0 1187.7L310.5 1194.1L312.0 1199.7L313.5 1204.6L315.0 1209.0L316.5 1213.2L318.0 1217.3L319.5 1221.2L321.0 1224.5L322.5 1227.3L324.0 1230.1L325.5 1232.8L327.0 1235.1L328.5 1237.4L330.0 1240.0L331.5 1242.3L333.0 1243.8L334.5 1245.2L336.0 1246.8L337.5 1248.5L339.0 1250.5L340.5 1252.1L342.0 1253.5L343.5 1254.9L345.0 1256.3L346.5 1257.5L348.0 1258.6L349.5 1260.0L351.0 1261.4L352.5 1262.4L354.0 1263.4L355.5 1264.4L357.0 1265.5L358.5 1266.4L360.0 1267.0L361.5 1267.6L363.0 1268.3L364.5 1268.9L366.0 1269.1L367.5 1269.0L369.0 1269.2L370.5 1269.3L372.0 1269.2L373.5 1269.2L375.0 1268.8L376.5 1268.0L378.0 1267.2L379.5 1266.5L381.0 1265.8L382.5 1265.7L384.0 1266.2L385.5 1267.1L387.0 1268.2L388.5 1269.1L390.0 1269.7L391.5 1269.9L393.0 1270.1L394.5 1270.6L396.0 1271.0L397.5 1271.3L399.0 1271.6L400.5 1272.1L402.0 1272.5L403.5 1272.8L405.0 1273.1L406.5 1273.3L408.0 1273.5L409.5 1273.9L411.0 1274.3L412.5 1275.0L414.0 1275.6L415.5 1275.9L417.0 1276.4L418.5 1276.8L420.0 1276.9L421.5 1277.0L423.0 1277.0L424.5 1277.1L426.0 1277.4L427.5 1277.6L429.0 1277.9L430.5 1278.3L432.0 1278.5L433.5 1278.4L435.0 1278.4L436.5 1278.6L438.0 1278.7L439.5 1278.9L441.0 1279.0L442.5 1279.1L444.0 1279.1L445.5 1279.2L447.0 1279.1L448.5 1279.1L450.0 1279.3L451.5 1279.6L453.0 1280.0L454.5 1280.0L456.0 1279.7L457.5 1279.8L459.0 1279.9L460.5 1279.9L462.0 1280.1L463.5 1279.9L465.0 1279.7L466.5 1279.9L468.0 1280.1L469.5 1280.1L471.0 1280.0L472.5 1280.3L474.0 1280.3L475.5 1279.9L477.0 1279.9L478.5 1280.0L480.0 1280.1L481.5 1280.4L483.0 1280.1L484.5 1279.7L486.0 1279.6L487.5 1279.9L489.0 1280.1L490.5 1279.8L492.0 1279.6L493.5 1279.5L495.0 1279.6L496.5 1279.6L498.0 1279.2L499.5 1279.0L501.0 1279.0L502.5 1278.7L504.0 1278.5L505.5 1278.6L507.0 1278.4L508.5 1278.0L510.0 1277.8L511.5 1277.7L513.0 1277.9L514.5 1278.0L516.0 1277.9L517.5 1277.8L519.0 1277.6L520.5 1277.4L522.0 1277.4L523.5 1277.2L525.0 1277.1L526.5 1277.2L528.0 1277.2L529.5 1276.9L531.0 1276.7L532.5 1277.0L534.0 1277.1L535.5 1276.7L537.0 1276.5L538.5 1276.6L540.0 1276.5L541.5 1276.3L543.0 1276.4L544.5 1276.6L546.0 1276.5L547.5 1276.6L549.0 1276.5L550.5 1276.3L552.0 1276.1L553.5 1275.9L555.0 1276.1L556.5 1276.4L558.0 1276.4L559.5 1276.4L561.0 1276.4L562.5 1276.3L564.0 1276.0L565.5 1275.6L567.0 1275.7L568.5 1275.9L570.0 1275.7L571.5 1275.6L573.0 1275.8L574.5 1275.7L576.0 1275.5L577.5 1275.7L579.0 1275.9L580.5 1276.0L582.0 1276.1L583.5 1276.2L585.0 1275.9L586.5 1275.4L588.0 1275.4L589.5 1275.7L591.0 1275.9L592.5 1275.9L594.0 1275.8L595.5 1275.7L597.0 1275.6L598.5 1275.5L600.0 1275.4L601.5 1275.1L603.0 1275.1L604.5 1275.2L606.0 1275.1L607.5 1275.2L609.0 1275.5L610.5 1275.8L612.0 1276.1L613.5 1275.8L615.0 1275.4L616.5 1275.4L618.0 1275.4L619.5 1275.3L621.0 1275.3L622.5 1274.8L624.0 1274.5L625.5 1274.9L627.0 1275.2L628.5 1275.2L630.0 1274.9L631.5 1274.9L633.0 1275.1L634.5 1274.9L636.0 1275.0L637.5 1275.2L639.0 1275.0L640.5 1274.8L642.0 1274.9L643.5 1274.9L645.0 1274.7L646.5 1274.8L648.0 1275.1L649.5 1275.1L651.0 1274.7L652.5 1274.4L654.0 1274.5L655.5 1274.5L657.0 1274.5L658.5 1274.6L660.0 1274.6L661.5 1274.3L663.0 1274.0L664.5 1273.7L666.0 1274.0L667.5 1274.4L669.0 1274.1L670.5 1273.8L672.0 1273.8L673.5 1274.1L675.0 1274.0L676.5 1273.8L678.0 1274.0L679.5 1274.1L681.0 1274.0L682.5 1273.9L684.0 1274.1L685.5 1274.0L687.0 1273.6L688.5 1273.5L690.0 1273.6L691.5 1273.6L693.0 1273.6L694.5 1273.7L696.0 1273.7L697.5 1273.7L699.0 1273.6L700.5 1273.1L702.0 1272.8L703.5 1273.1L705.0 1273.3L706.5 1273.2L708.0 1273.0L709.5 1272.8L711.0 1272.6L712.5 1272.7L714.0 1272.9L715.5 1272.8L717.0 1272.4L718.5 1272.2L720.0 1272.4L721.5 1272.7L723.0 1272.5L724.5 1272.3L726.0 1272.5L727.5 1272.6L729.0 1272.4L730.5 1272.3L732.0 1272.2L733.5 1272.0L735.0 1271.7L736.5 1271.6L738.0 1271.7L739.5 1271.7L741.0 1271.4L742.5 1270.9L744.0 1271.0L745.5 1271.1L747.0 1270.8L748.5 1270.7L750.0 1270.7L751.5 1270.4L753.0 1270.0L754.5 1269.9L756.0 1270.0L757.5 1269.9L759.0 1269.5L760.5 1269.2L762.0 1269.1L763.5 1268.9L765.0 1268.3L766.5 1268.0L768.0 1267.9L769.5 1267.6L771.0 1267.4L772.5 1267.4L774.0 1267.2L775.5 1266.9L777.0 1266.6L778.5 1266.2L780.0 1265.9L781.5 1265.5L783.0 1265.3L784.5 1265.3L786.0 1264.9L787.5 1264.4L789.0 1264.2L790.5 1264.0L792.0 1263.7L793.5 1263.4L795.0 1263.1L796.5 1262.5L798.0 1262.0L799.5 1261.8L801.0 1261.8L802.5 1261.6L804.0 1261.2L805.5 1260.7L807.0 1260.4L808.5 1260.2L810.0 1260.0L811.5 1260.0L813.0 1259.9L814.5 1259.7L816.0 1259.7L817.5 1260.1L819.0 1260.7L820.5 1261.1L822.0 1261.0L823.5 1260.9L825.0 1261.1L826.5 1261.9L828.0 1262.5L829.5 1263.0L831.0 1263.6L832.5 1264.0L834.0 1264.6L835.5 1265.3L837.0 1265.8L838.5 1266.6L840.0 1267.1L841.5 1267.2L843.0 1267.6L844.5 1268.4L846.0 1268.8L847.5 1269.0L849.0 1269.5L850.5 1270.0L852.0 1270.5L853.5 1271.0L855.0 1271.4L856.5 1271.9L858.0 1272.2L859.5 1272.4L861.0 1272.7L862.5 1273.0L864.0 1273.0L865.5 1273.0L867.0 1273.4L868.5 1273.9L870.0 1274.2L871.5 1274.3L873.0 1274.4L874.5 1274.8L876.0 1275.1L877.5 1275.1L879.0 1275.1L880.5 1275.3L882.0 1275.4L883.5 1275.6L885.0 1275.9L886.5 1276.2L888.0 1276.5L889.5 1276.4L891.0 1276.4L892.5 1276.6L894.0 1276.7L895.5 1276.6L897.0 1276.7L898.5 1277.0L900.0 1277.3L901.5 1277.3L903.0 1277.2L904.5 1277.4L906.0 1277.8L907.5 1278.1L909.0 1278.1L910.5 1278.1L912.0 1278.1L913.5 1278.0L915.0 1278.1L916.5 1278.3L918.0 1278.4L919.5 1278.4L921.0 1278.4L922.5 1278.9L924.0 1279.1L925.5 1278.9L927.0 1278.8L928.5 1279.0L930.0 1278.9L931.5 1278.8L933.0 1279.0L934.5 1279.1L936.0 1279.1L937.5 1279.0L939.0 1278.8L940.5 1278.9L942.0 1278.9L943.5 1278.7L945.0 1278.6L946.5 1278.5L948.0 1278.5L949.5 1278.9L951.0 1278.9L952.5 1278.8L954.0 1278.8L955.5 1278.5L957.0 1278.6L958.5 1279.0L960.0 1278.6L961.5 1277.8L963.0 1277.4L964.5 1277.9L966.0 1278.4L967.5 1278.2L969.0 1278.2L970.5 1278.1L972.0 1278.0L973.5 1278.1L975.0 1278.2L976.5 1278.1L978.0 1277.9L979.5 1277.7L981.0 1277.7L982.5 1277.7L984.0 1278.0L985.5 1278.1L987.0 1277.3L988.5 1276.8L990.0 1277.0L991.5 1277.3L993.0 1277.4L994.5 1277.2L996.0 1276.8L997.5 1276.7L999.0 1276.8L1000.5 1276.6L1002.0 1276.6L1003.5 1276.5L1005.0 1276.5L1006.5 1276.4L1008.0 1276.3L1009.5 1276.0L1011.0 1275.6L1012.5 1275.5L1014.0 1275.5L1015.5 1275.4L1017.0 1275.3L1018.5 1274.9L1020.0 1274.4L1021.5 1274.2L1023.0 1274.1L1024.5 1274.0L1026.0 1273.7L1027.5 1273.6L1029.0 1273.3L1030.5 1272.6L1032.0 1272.2L1033.5 1272.1L1035.0 1271.7L1036.5 1271.2L1038.0 1271.2L1039.5 1271.0L1041.0 1270.3L1042.5 1269.9L1044.0 1269.7L1045.5 1268.9L1047.0 1268.0L1048.5 1267.4L1050.0 1266.9L1051.5 1266.1L1053.0 1265.5L1054.5 1265.2L1056.0 1264.8L1057.5 1264.4L1059.0 1264.1L1060.5 1263.7L1062.0 1263.3L1063.5 1262.9L1065.0 1263.1L1066.5 1263.1L1068.0 1263.0L1069.5 1263.2L1071.0 1263.2L1072.5 1263.4L1074.0 1263.9L1075.5 1264.2L1077.0 1264.7L1078.5 1265.2L1080.0 1265.6L1081.5 1265.9L1083.0 1266.6L1084.5 1267.5L1086.0 1268.1L1087.5 1268.5L1089.0 1269.0L1090.5 1269.5L1092.0 1269.8L1093.5 1270.2L1095.0 1270.9L1096.5 1271.3L1098.0 1271.7L1099.5 1272.2L1101.0 1272.7L1102.5 1273.2L1104.0 1273.8L1105.5 1274.2L1107.0 1274.4L1108.5 1274.4L1110.0 1274.3L1111.5 1274.5L1113.0 1274.7L1114.5 1274.8L1116.0 1275.3L1117.5 1276.1L1119.0 1276.6L1120.5 1276.6L1122.0 1276.5L1123.5 1276.6L1125.0 1276.9L1126.5 1277.2L1128.0 1277.5L1129.5 1277.9L1131.0 1278.4L1132.5 1278.5L1134.0 1278.6L1135.5 1278.4L1137.0 1278.3L1138.5 1278.8L1140.0 1278.9L1141.5 1278.6L1143.0 1278.5L1144.5 1278.4L1146.0 1278.7L1147.5 1279.0L1149.0 1278.9L1150.5 1278.6L1152.0 1278.6L1153.5 1278.9L1155.0 1279.1L1156.5 1279.1L1158.0 1278.8L1159.5 1278.7L1161.0 1279.0L1162.5 1278.8L1164.0 1278.7L1165.5 1278.5L1167.0 1278.1L1168.5 1278.2L1170.0 1278.3L1171.5 1278.5L1173.0 1278.5L1174.5 1278.1L1176.0 1277.7L1177.5 1277.7L1179.0 1277.9L1180.5 1277.7L1182.0 1277.3L1183.5 1277.2L1185.0 1277.5L1186.5 1277.5L1188.0 1277.2L1189.5 1277.1L1191.0 1277.1L1192.5 1276.6L1194.0 1276.8L1195.5 1277.3L1197.0 1277.0L1198.5 1276.6L1200.0 1276.5L1201.5 1276.6L1203.0 1276.3L1204.5 1276.3L1206.0 1276.2L1207.5 1276.0L1209.0 1275.9L1210.5 1275.6L1212.0 1275.5L1213.5 1275.5L1215.0 1275.5L1216.5 1275.5L1218.0 1275.5L1219.5 1275.1L1221.0 1274.8L1222.5 1274.7L1224.0 1274.7L1225.5 1274.7L1227.0 1274.5L1228.5 1274.3L1230.0 1274.1L1231.5 1273.9L1233.0 1273.8L1234.5 1273.5L1236.0 1273.5L1237.5 1273.5L1239.0 1273.0L1240.5 1272.6L1242.0 1272.4L1243.5 1272.1L1245.0 1271.9L1246.5 1271.8L1248.0 1271.8L1249.5 1271.8L1251.0 1271.8L1252.5 1271.5L1254.0 1271.1L1255.5 1270.7L1257.0 1270.3L1258.5 1269.7L1260.0 1269.4L1261.5 1269.5L1263.0 1269.6L1264.5 1269.0L1266.0 1268.6L1267.5 1268.3L1269.0 1267.7L1270.5 1267.0L1272.0 1266.5L1273.5 1266.1L1275.0 1266.0L1276.5 1265.8L1278.0 1265.0L1279.5 1264.2L1281.0 1263.6L1282.5 1263.0L1284.0 1262.3L1285.5 1261.9L1287.0 1261.5L1288.5 1260.8L1290.0 1259.9L1291.5 1258.7L1293.0 1257.9L1294.5 1257.5L1296.0 1256.6L1297.5 1255.3L1299.0 1254.4L1300.5 1253.6L1302.0 1252.6L1303.5 1251.5L1305.0 1250.3L1306.5 1249.3L1308.0 1248.3L1309.5 1247.0L1311.0 1245.4L1312.5 1244.1L1314.0 1243.2L1315.5 1242.3L1317.0 1241.6L1318.5 1240.7L1320.0 1239.6L1321.5 1238.4L1323.0 1237.6L1324.5 1236.8L1326.0 1235.8L1327.5 1235.1L1329.0 1234.5L1330.5 1233.9L1332.0 1233.4L1333.5 1232.9L1335.0 1232.5L1336.5 1232.2L1338.0 1232.0L1339.5 1232.2L1341.0 1232.6L1342.5 1233.0L1344.0 1233.6L1345.5 1234.4L1347.0 1235.7L1348.5 1236.8L1350.0 1237.8L1351.5 1239.0L1353.0 1240.3L1354.5 1241.5L1356.0 1242.4L1357.5 1243.4L1359.0 1245.0L1360.5 1246.1L1362.0 1247.1L1363.5 1248.2L1365.0 1249.3L1366.5 1250.5L1368.0 1251.8L1369.5 1253.1L1371.0 1253.9L1372.5 1254.2L1374.0 1254.9L1375.5 1255.7L1377.0 1256.5L1378.5 1257.4L1380.0 1258.1L1381.5 1258.6L1383.0 1259.3L1384.5 1260.2L1386.0 1261.1L1387.5 1261.6L1389.0 1261.9L1390.5 1262.3L1392.0 1262.7L1393.5 1263.2L1395.0 1263.7L1396.5 1264.2L1398.0 1264.4L1399.5 1264.8L1401.0 1265.5L1402.5 1265.9L1404.0 1266.1L1405.5 1266.5L1407.0 1267.1L1408.5 1267.4L1410.0 1267.7L1411.5 1268.0L1413.0 1268.5L1414.5 1269.1L1416.0 1269.2L1417.5 1268.9L1419.0 1269.0L1420.5 1269.8L1422.0 1270.4L1423.5 1270.6L1425.0 1270.7L1426.5 1270.7L1428.0 1270.8L1429.5 1271.3L1431.0 1271.6L1432.5 1271.7L1434.0 1271.7L1435.5 1271.9L1437.0 1272.2L1438.5 1272.5L1440.0 1272.5L1441.5 1272.5L1443.0 1272.9L1444.5 1273.3L1446.0 1273.3L1447.5 1273.2L1449.0 1273.2L1450.5 1273.6L1452.0 1273.9L1453.5 1273.8L1455.0 1273.9L1456.5 1274.5L1458.0 1274.8L1459.5 1274.8L1461.0 1275.0L1462.5 1275.3L1464.0 1275.4L1465.5 1275.5L1467.0 1275.7L1468.5 1275.8L1470.0 1275.8L1471.5 1275.8L1473.0 1275.8L1474.5 1275.7L1476.0 1275.7L1477.5 1276.1L1479.0 1276.3L1480.5 1276.3L1482.0 1276.5L1483.5 1276.9L1485.0 1276.8L1486.5 1276.7L1488.0 1277.0L1489.5 1277.2L1491.0 1277.2L1492.5 1277.5L1494.0 1277.9L1495.5 1277.8L1497.0 1277.6L1498.5 1277.6L1500.0 1277.7L1501.5 1277.3L1503.0 1277.1L1504.5 1277.5L1506.0 1278.0L1507.5 1278.5L1509.0 1278.4L1510.5 1278.1L1512.0 1278.2L1513.5 1278.5L1515.0 1278.5L1516.5 1278.5L1518.0 1278.7L1519.5 1278.9L1521.0 1279.0L1522.5 1279.2L1524.0 1279.5L1525.5 1279.4L1527.0 1279.3L1528.5 1279.6L1530.0 1279.7L1531.5 1279.5L1533.0 1279.4L1534.5 1279.4L1536.0 1279.6L1537.5 1279.6L1539.0 1279.8L1540.5 1279.8"/>
<path stroke="#0000ff" d="M118.5 1017.4L120.0 1017.5L121.5 1017.7L123.0 1017.4L124.5 1016.9L126.0 1016.8L127.5 1016.8L129.0 1016.5L130.5 1016.3L132.0 1016.3L133.5 1016.4L135.0 1016.4L136.5 1016.1L138.0 1015.6L139.5 1015.4L141.0 1015.3L142.5 1014.9L144.0 1014.7L145.5 1014.5L147.0 1014.0L148.5 1013.8L150.0 1013.7L151.5 1013.6L153.0 1013.5L154.5 1013.3L156.0 1012.7L157.5 1012.5L159.0 1012.5L160.5 1012.2L162.0 1011.8L163.5 1011.8L165.0 1011.7L166.5 1011.6L168.0 1011.7L169.5 1011.7L171.0 1011.6L172.5 1011.3L174.0 1010.8L175.5 1010.5L177.0 1010.6L178.5 1010.6L180.0 1010.4L181.5 1009.8L183.0 1009.4L184.5 1009.1L186.0 1008.8L187.5 1008.6L189.0 1008.4L190.5 1008.2L192.0 1007.4L193.5 1006.8L195.0 1006.2L196.5 1005.5L198.0 1004.9L199.5 1004.4L201.0 1003.7L202.5 1002.8L204.0 1002.2L205.5 1001.2L207.0 1000.3L208.5 999.5L210.0 998.5L211.5 997.3L213.0 995.9L214.5 994.5L216.0 992.9L217.5 991.4L219.0 989.8L220.5 987.7L222.0 985.7L223.5 983.9L225.0 981.3L226.5 978.5L228.0 975.9L229.5 972.7L231.0 969.1L232.5 965.0L234.0 960.4L235.5 955.3L237.0 949.7L238.5 943.9L240.0 937.4L241.5 930.1L243.0 921.5L244.5 911.3L246.0 900.1L247.5 887.4L249.0 873.0L250.5 856.6L252.0 838.4L253.5 818.1L255.0 795.5L256.5 770.4L258.0 743.2L259.5 714.1L261.0 683.6L262.5 653.1L264.0 624.4L265.5 599.1L267.0 579.7L268.5 568.4L270.0 566.3L271.5 570.0L273.0 577.6L274.5 588.7L276.0 603.1L277.5 620.0L279.0 638.9L280.5 659.2L282.0 680.4L283.5 701.8L285.0 722.9L286.5 743.7L288.0 763.6L289.5 782.9L291.0 801.3L292.5 818.4L294.0 834.4L295.5 849.4L297.0 863.5L298.5 876.8L300.0 888.8L301.5 900.0L303.0 910.6L304.5 919.9L306.0 928.1L307.5 935.9L309.0 943.2L310.5 949.8L312.0 955.4L313.5 960.9L315.0 966.0L316.5 970.5L318.0 974.7L319.5 978.4L321.0 981.6L322.5 984.5L324.0 987.5L325.5 990.7L327.0 993.6L328.5 995.9L330.0 998.4L331.5 1000.6L333.0 1002.3L334.5 1004.1L336.0 1005.7L337.5 1007.3L339.0 1008.9L340.5 1010.5L342.0 1012.1L343.5 1013.4L345.0 1014.5L346.5 1015.7L348.0 1016.8L349.5 1017.9L351.0 1019.0L352.5 1020.0L354.0 1020.9L355.5 1021.7L357.0 1022.4L358.5 1023.0L360.0 1023.9L361.5 1024.7L363.0 1025.4L364.5 1026.0L366.0 1026.0L367.5 1025.8L369.0 1026.5L370.5 1027.2L372.0 1027.1L373.5 1026.7L375.0 1026.6L376.5 1026.5L378.0 1026.0L379.5 1025.1L381.0 1024.1L382.5 1023.4L384.0 1022.6L385.5 1022.3L387.0 1022.9L388.5 1023.8L390.0 1024.7L391.5 1025.7L393.0 1026.0L394.5 1026.5L396.0 1027.5L397.5 1028.2L399.0 1028.4L400.5 1028.7L402.0 1029.0L403.5 1029.2L405.0 1029.7L406.5 1030.1L408.0 1030.2L409.5 1030.4L411.0 1030.9L412.5 1031.6L414.0 1032.0L415.5 1032.1L417.0 1032.1L418.5 1032.2L420.0 1032.8L421.5 1033.0L423.0 1033.0L424.5 1033.1L426.0 1033.1L427.5 1033.4L429.0 1033.7L430.5 1033.6L432.0 1033.7L433.5 1034.3L435.0 1034.6L436.5 1034.8L438.0 1034.9L439.5 1035.1L441.0 1035.4L442.5 1035.5L444.0 1035.5L445.5 1035.7L447.0 1035.9L448.5 1036.3L450.0 1036.5L451.5 1036.2L453.0 1035.9L454.5 1035.8L456.0 1035.9L457.5 1036.2L459.0 1036.3L460.5 1036.4L462.0 1036.5L463.5 1036.5L465.0 1036.3L466.5 1036.4L468.0 1036.9L469.5 1037.0L471.0 1036.9L472.5 1037.0L474.0 1036.9L475.5 1036.6L477.0 1036.7L478.5 1037.0L480.0 1037.2L481.5 1037.2L483.0 1037.2L484.5 1037.0L486.0 1037.0L487.5 1037.0L489.0 1036.8L490.5 1036.6L492.0 1036.6L493.5 1036.6L495.0 1036.7L496.5 1036.6L498.0 1036.3L499.5 1036.0L501.0 1035.8L502.5 1035.6L504.0 1035.7L505.5 1035.7L507.0 1035.4L508.5 1035.0L510.0 1034.9L511.5 1034.7L513.0 1034.4L514.5 1034.2L516.0 1034.3L517.5 1034.6L519.0 1034.4L520.5 1033.9L522.0 1033.5L523.5 1033.3L525.0 1033.4L526.5 1033.5L528.0 1033.4L529.5 1033.2L531.0 1033.4L532.5 1033.5L534.0 1033.2L535.5 1033.1L537.0 1033.0L538.5 1033.1L540.0 1033.3L541.5 1033.3L543.0 1033.0L544.5 1033.0L546.0 1033.0L547.5 1032.7L549.0 1032.6L550.5 1032.6L552.0 1032.6L553.5 1032.9L555.0 1033.2L556.5 1033.4L558.0 1033.4L559.5 1033.0L561.0 1032.7L562.5 1032.6L564.0 1032.4L565.5 1032.3L567.0 1032.6L568.5 1032.5L570.0 1032.2L571.5 1032.4L573.0 1032.7L574.5 1032.8L576.0 1032.5L577.5 1032.5L579.0 1032.3L580.5 1032.2L582.0 1032.3L583.5 1032.2L585.0 1032.1L586.5 1032.2L588.0 1032.1L589.5 1032.0L591.0 1032.0L592.5 1031.9L594.0 1032.0L595.5 1032.1L597.0 1032.0L598.5 1032.1L600.0 1032.3L601.5 1032.1L603.0 1032.0L604.5 1032.1L606.0 1032.0L607.5 1032.0L609.0 1031.9L610.5 1032.0L612.0 1031.9L613.5 1031.8L615.0 1032.0L616.5 1031.9L618.0 1031.6L619.5 1031.5L621.0 1031.5L622.5 1031.6L624.0 1031.8L625.5 1031.7L627.0 1031.4L628.5 1031.5L630.0 1031.8L631.5 1031.7L633.0 1031.8L634.5 1031.9L636.0 1031.7L637.5 1031.5L639.0 1031.6L640.5 1031.8L642.0 1031.6L643.5 1031.3L645.0 1031.2L646.5 1031.2L648.0 1031.4L649.5 1031.4L651.0 1031.1L652.5 1030.8L654.0 1030.7L655.5 1031.0L657.0 1031.0L658.5 1031.0L660.0 1031.0L661.5 1030.8L663.0 1030.6L664.5 1030.5L666.0 1030.7L667.5 1031.1L669.0 1030.9L670.5 1030.7L672.0 1030.4L673.5 1030.0L675.0 1030.2L676.5 1030.4L678.0 1030.3L679.5 1030.2L681.0 1030.0L682.5 1030.2L684.0 1030.2L685.5 1029.7L687.0 1029.6L688.5 1029.9L690.0 1030.0L691.5 1029.9L693.0 1030.0L694.5 1029.8L696.0 1029.6L697.5 1029.5L699.0 1029.2L700.5 1028.9L702.0 1029.0L703.5 1029.5L705.0 1029.7L706.5 1029.6L708.0 1029.2L709.5 1029.1L711.0 1029.2L712.5 1029.2L714.0 1029.1L715.5 1029.0L717.0 1028.6L718.5 1028.2L720.0 1028.5L721.5 1029.0L723.0 1029.0L724.5 1028.8L726.0 1028.4L727.5 1028.1L729.0 1028.1L730.5 1028.1L732.0 1028.1L733.5 1028.2L735.0 1028.1L736.5 1027.8L738.0 1027.5L739.5 1027.4L741.0 1027.4L742.5 1027.3L744.0 1027.1L745.5 1027.2L747.0 1027.2L748.5 1026.8L750.0 1026.3L751.5 1026.1L753.0 1026.0L754.5 1025.8L756.0 1025.6L757.5 1025.6L759.0 1025.5L760.5 1025.2L762.0 1025.2L763.5 1025.0L765.0 1024.5L766.5 1024.6L768.0 1024.6L769.5 1024.0L771.0 1023.5L772.5 1023.2L774.0 1023.0L775.5 1022.9L777.0 1022.5L778.5 1022.1L780.0 1021.8L781.5 1021.5L783.0 1021.2L784.5 1020.9L786.0 1020.6L787.5 1020.2L789.0 1020.0L790.5 1019.6L792.0 1019.0L793.5 1018.8L795.0 1018.4L796.5 1017.9L798.0 1017.4L799.5 1017.2L801.0 1017.0L802.5 1016.7L804.0 1016.5L805.5 1016.3L807.0 1016.1L808.5 1016.0L810.0 1015.9L811.5 1015.6L813.0 1015.9L814.5 1016.1L816.0 1015.9L817.5 1016.0L819.0 1016.2L820.5 1016.4L822.0 1016.8L823.5 1017.2L825.0 1017.9L826.5 1018.5L828.0 1019.0L829.5 1019.7L831.0 1020.3L832.5 1020.6L834.0 1021.0L835.5 1021.9L837.0 1022.2L838.5 1022.1L840.0 1022.5L841.5 1023.3L843.0 1024.1L844.5 1024.6L846.0 1024.8L847.5 1025.2L849.0 1025.5L850.5 1025.7L852.0 1026.1L853.5 1026.5L855.0 1026.8L856.5 1027.0L858.0 1027.1L859.5 1027.4L861.0 1028.0L862.5 1028.4L864.0 1028.7L865.5 1029.1L867.0 1029.2L868.5 1029.2L870.0 1029.6L871.5 1030.0L873.0 1030.5L874.5 1031.0L876.0 1031.3L877.5 1031.6L879.0 1031.7L880.5 1031.9L882.0 1032.2L883.5 1032.3L885.0 1032.4L886.5 1032.5L888.0 1032.8L889.5 1033.1L891.0 1033.5L892.5 1034.1L894.0 1034.4L895.5 1034.3L897.0 1034.2L898.5 1034.4L900.0 1034.4L901.5 1034.4L903.0 1034.6L904.5 1034.7L906.0 1035.0L907.5 1035.3L909.0 1035.2L910.5 1035.3L912.0 1035.6L913.5 1035.5L915.0 1035.4L916.5 1035.7L918.0 1036.1L919.5 1036.3L921.0 1036.3L922.5 1036.2L924.0 1036.3L925.5 1036.4L927.0 1036.3L928.5 1036.2L930.0 1036.3L931.5 1036.4L933.0 1036.7L934.5 1036.6L936.0 1036.4L937.5 1036.6L939.0 1036.6L940.5 1036.7L942.0 1036.7L943.5 1036.5L945.0 1036.5L946.5 1036.6L948.0 1036.5L949.5 1036.3L951.0 1036.4L952.5 1036.3L954.0 1036.2L955.5 1036.4L957.0 1036.2L958.5 1035.6L960.0 1035.9L961.5 1036.5L963.0 1036.5L964.5 1036.0L966.0 1035.6L967.5 1035.7L969.0 1036.0L970.5 1035.8L972.0 1035.5L973.5 1035.4L975.0 1035.5L976.5 1035.5L978.0 1035.4L979.5 1035.5L981.0 1035.5L982.5 1035.3L984.0 1034.9L985.5 1034.7L987.0 1034.9L988.5 1035.0L990.0 1034.5L991.5 1034.0L993.0 1034.1L994.5 1034.5L996.0 1034.7L997.5 1034.5L999.0 1034.3L1000.5 1034.3L1002.0 1034.0L1003.5 1033.5L1005.0 1033.1L1006.5 1033.1L1008.0 1033.0L1009.5 1033.0L1011.0 1032.8L1012.5 1032.6L1014.0 1032.4L1015.5 1032.5L1017.0 1032.5L1018.5 1032.4L1020.0 1032.4L1021.5 1032.0L1023.0 1031.3L1024.5 1031.1L1026.0 1030.8L1027.5 1030.2L1029.0 1030.1L1030.5 1029.8L1032.0 1029.4L1033.5 1028.9L1035.0 1028.6L1036.5 1028.3L1038.0 1027.7L1039.5 1027.1L1041.0 1026.6L1042.5 1026.1L1044.0 1025.5L1045.5 1024.9L1047.0 1024.7L1048.5 1024.3L1050.0 1023.6L1051.5 1022.9L1053.0 1022.3L1054.5 1021.9L1056.0 1021.1L1057.5 1020.6L1059.0 1020.3L1060.5 1019.9L1062.0 1019.2L1063.5 1018.6L1065.0 1018.3L1066.5 1018.0L1068.0 1018.1L1069.5 1018.5L1071.0 1018.8L1072.5 1018.9L1074.0 1019.0L1075.5 1019.3L1077.0 1019.8L1078.5 1020.5L1080.0 1021.2L1081.5 1021.6L1083.0 1022.2L1084.5 1022.9L1086.0 1023.7L1087.5 1024.4L1089.0 1024.9L1090.5 1025.6L1092.0 1026.5L1093.5 1027.3L1095.0 1027.9L1096.5 1028.1L1098.0 1028.3L1099.5 1028.8L1101.0 1029.7L1102.5 1030.4L1104.0 1030.8L1105.5 1031.1L1107.0 1031.2L1108.5 1031.5L1110.0 1032.0L1111.5 1032.2L1113.0 1032.5L1114.5 1032.9L1116.0 1033.2L1117.5 1033.5L1119.0 1033.4L1120.5 1033.3L1122.0 1033.4L1123.5 1033.7L1125.0 1034.1L1126.5 1034.4L1128.0 1034.7L1129.5 1034.9L1131.0 1034.8L1132.5 1034.8L1134.0 1035.2L1135.5 1035.5L1137.0 1035.3L1138.5 1035.6L1140.0 1036.2L1141.5 1036.4L1143.0 1036.4L1144.5 1036.3L1146.0 1036.1L1147.5 1036.1L1149.0 1036.2L1150.5 1036.2L1152.0 1036.1L1153.5 1036.2L1155.0 1036.3L1156.5 1036.3L1158.0 1036.3L1159.5 1036.4L1161.0 1036.1L1162.5 1035.9L1164.0 1036.0L1165.5 1035.8L1167.0 1035.7L1168.5 1035.4L1170.0 1035.1L1171.5 1035.1L1173.0 1035.3L1174.5 1035.3L1176.0 1035.5L1177.5 1035.6L1179.0 1035.7L1180.5 1035.6L1182.0 1035.3L1183.5 1035.1L1185.0 1034.9L1186.5 1034.6L1188.0 1034.7L1189.5 1034.9L1191.0 1034.6L1192.5 1034.1L1194.0 1034.1L1195.5 1034.4L1197.0 1034.4L1198.5 1034.1L1200.0 1033.5L1201.5 1033.4L1203.0 1033.5L1204.5 1033.4L1206.0 1033.4L1207.5 1033.5L1209.0 1033.4L1210.5 1033.3L1212.0 1033.3L1213.5 1033.2L1215.0 1032.8L1216.5 1032.6L1218.0 1032.7L1219.5 1032.7L1221.0 1032.4L1222.5 1032.1L1224.0 1031.8L1225.5 1031.8L1227.0 1031.5L1228.5 1031.4L1230.0 1031.5L1231.5 1031.3L1233.0 1031.1L1234.5 1031.2L1236.0 1030.8L1237.5 1030.1L1239.0 1029.9L1240.5 1030.0L1242.0 1029.3L1243.5 1028.8L1245.0 1029.0L1246.5 1029.1L1248.0 1028.9L1249.5 1028.5L1251.0 1028.1L1252.5 1027.8L1254.0 1027.5L1255.5 1027.1L1257.0 1026.9L1258.5 1026.5L1260.0 1026.1L1261.5 1025.9L1263.0 1025.7L1264.5 1024.9L1266.0 1024.0L1267.5 1023.8L1269.0 1023.5L1270.5 1022.9L1272.0 1022.5L1273.5 1022.0L1275.0 1021.7L1276.5 1021.1L1278.0 1020.4L1279.5 1020.0L1281.0 1019.4L1282.5 1018.4L1284.0 1017.5L1285.5 1017.0L1287.0 1016.6L1288.5 1015.5L1290.0 1014.4L1291.5 1013.9L1293.0 1013.2L1294.5 1011.9L1296.0 1010.5L1297.5 1009.2L1299.0 1008.2L1300.5 1007.4L1302.0 1006.5L1303.5 1005.5L1305.0 1004.0L1306.5 1002.7L1308.0 1001.7L1309.5 1000.8L1311.0 999.9L1312.5 998.7L1314.0 997.7L1315.5 996.7L1317.0 995.5L1318.5 994.6L1320.0 993.4L1321.5 992.2L1323.0 991.3L1324.5 990.7L1326.0 989.9L1327.5 988.9L1329.0 988.3L1330.5 987.8L1332.0 987.2L1333.5 987.0L1335.0 986.8L1336.5 986.8L1338.0 986.8L1339.5 987.0L1341.0 987.6L1342.5 988.0L1344.0 988.1L1345.5 988.7L1347.0 989.8L1348.5 991.0L1350.0 992.3L1351.5 993.8L1353.0 995.0L1354.5 996.1L1356.0 997.3L1357.5 998.5L1359.0 999.9L1360.5 1001.4L1362.0 1002.6L1363.5 1003.6L1365.0 1004.8L1366.5 1006.1L1368.0 1007.3L1369.5 1008.1L1371.0 1009.0L1372.5 1010.1L1374.0 1010.9L1375.5 1011.8L1377.0 1012.8L1378.5 1013.3L1380.0 1014.0L1381.5 1015.1L1383.0 1016.1L1384.5 1017.0L1386.0 1017.5L1387.5 1017.5L1389.0 1017.8L1390.5 1018.7L1392.0 1019.3L1393.5 1019.6L1395.0 1020.2L1396.5 1020.8L1398.0 1021.1L1399.5 1021.7L1401.0 1022.3L1402.5 1022.7L1404.0 1023.1L1405.5 1023.2L1407.0 1023.4L1408.5 1023.8L1410.0 1024.4L1411.5 1024.8L1413.0 1025.2L1414.5 1025.7L1416.0 1026.0L1417.5 1026.2L1419.0 1026.4L1420.5 1026.7L1422.0 1026.9L1423.5 1027.3L1425.0 1027.7L1426.5 1027.7L1428.0 1027.8L1429.5 1028.0L1431.0 1028.4L1432.5 1028.9L1434.0 1029.2L1435.5 1029.4L1437.0 1029.4L1438.5 1029.5L1440.0 1029.8L1441.5 1030.0L1443.0 1030.2L1444.5 1030.4L1446.0 1030.8L1447.5 1031.1L1449.0 1031.2L1450.5 1031.2L1452.0 1031.3L1453.5 1031.3L1455.0 1031.3L1456.5 1031.6L1458.0 1031.8L1459.5 1031.9L1461.0 1032.3L1462.5 1032.5L1464.0 1032.4L1465.5 1032.7L1467.0 1033.1L1468.5 1033.3L1470.0 1033.6L1471.5 1034.1L1473.0 1034.1L1474.5 1033.8L1476.0 1033.8L1477.5 1033.8L1479.0 1033.7L1480.5 1034.1L1482.0 1034.5L1483.5 1034.5L1485.0 1034.6L1486.5 1035.0L1488.0 1035.1L1489.5 1035.1L1491.0 1035.4L1492.5 1035.3L1494.0 1035.0L1495.5 1035.0L1497.0 1035.3L1498.5 1035.6L1500.0 1035.9L1501.5 1036.0L1503.0 1035.8L1504.5 1035.8L1506.0 1036.1L1507.5 1036.1L1509.0 1035.8L1510.5 1035.9L1512.0 1036.3L1513.5 1036.6L1515.0 1036.5L1516.5 1036.6L1518.0 1036.7L1519.5 1036.5L1521.0 1036.7L1522.5 1037.2L1524.0 1037.1L1525.5 1036.9L1527.0 1037.1L1528.5 1037.4L1530.0 1037.2L1531.5 1037.2L1533.0 1037.2L1534.5 1037.0L1536.0 1037.0L1537.5 1037.0L1539.0 1037.1L1540.5 1037.2"/>
<path stroke="#ff00ff" d="M118.5 784.2L120.0 784.0L121.5 784.1L123.0 784.3L124.5 784.3L126.0 784.0L127.5 783.6L129.0 783.5L130.5 783.7L132.0 783.8L133.5 783.2L135.0 782.7L136.5 782.6L138.0 782.8L139.5 782.4L141.0 781.8L142.5 781.7L144.0 781.5L145.5 781.3L147.0 781.1L148.5 781.0L150.0 780.9L151.5 780.7L153.0 780.4L154.5 780.4L156.0 780.1L157.5 779.6L159.0 779.4L160.5 779.3L162.0 779.1L163.5 779.0L165.0 779.0L166.5 779.0L168.0 778.7L169.5 778.5L171.0 778.4L172.5 778.2L174.0 778.1L175.5 778.2L177.0 778.1L178.5 778.2L180.0 777.9L181.5 777.3L183.0 777.0L184.5 776.8L186.0 776.5L187.5 776.0L189.0 775.3L190.5 774.9L192.0 774.7L193.5 774.1L195.0 773.3L196.5 772.7L198.0 771.9L199.5 771.0L201.0 770.4L202.5 769.9L204.0 769.2L205.5 768.4L207.0 767.2L208.5 766.0L210.0 764.7L211.5 763.3L213.0 762.1L214.5 760.9L216.0 759.3L217.5 757.6L219.0 756.0L220.5 754.1L222.0 752.0L223.5 749.8L225.0 747.5L226.5 744.8L228.0 741.8L229.5 738.7L231.0 734.8L232.5 730.6L234.0 726.4L235.5 721.6L237.0 715.8L238.5 709.1L240.0 701.9L241.5 693.7L243.0 684.2L244.5 673.5L246.0 661.6L247.5 647.8L249.0 632.5L250.5 615.3L252.0 596.0L253.5 574.7L255.0 551.4L256.5 525.5L258.0 497.7L259.5 469.0L261.0 439.9L262.5 411.4L264.0 384.7L265.5 361.6L267.0 344.1L268.5 333.9L270.0 332.1L271.5 336.0L273.0 344.2L274.5 356.7L276.0 372.5L277.5 390.4L279.0 410.3L280.5 431.9L282.0 453.7L283.5 475.3L285.0 496.8L286.5 517.4L288.0 536.9L289.5 555.5L291.0 573.0L292.5 589.7L294.0 605.0L295.5 619.0L297.0 632.2L298.5 644.3L300.0 655.1L301.5 665.3L303.0 674.7L304.5 683.2L306.0 691.3L307.5 699.0L309.0 706.0L310.5 712.3L312.0 718.3L313.5 723.9L315.0 729.1L316.5 733.8L318.0 738.2L319.5 742.4L321.0 746.4L322.5 749.8L324.0 752.9L325.5 755.9L327.0 758.6L328.5 761.4L330.0 764.2L331.5 766.8L333.0 769.0L334.5 770.7L336.0 772.5L337.5 774.8L339.0 776.5L340.5 777.8L342.0 779.4L343.5 780.5L345.0 781.4L346.5 782.7L348.0 784.1L349.5 785.2L351.0 786.0L352.5 786.7L354.0 787.5L355.5 788.2L357.0 788.9L358.5 789.9L360.0 790.7L361.5 791.2L363.0 791.3L364.5 791.7L366.0 792.3L367.5 792.6L369.0 792.6L370.5 792.9L372.0 793.5L373.5 793.3L375.0 792.7L376.5 792.5L378.0 791.8L379.5 790.6L381.0 789.8L382.5 789.5L384.0 789.5L385.5 789.7L387.0 790.2L388.5 791.2L390.0 792.4L391.5 793.1L393.0 793.1L394.5 793.6L396.0 794.4L397.5 794.5L399.0 794.6L400.5 795.2L402.0 795.8L403.5 796.3L405.0 796.4L406.5 796.6L408.0 797.1L409.5 797.7L411.0 798.1L412.5 798.1L414.0 798.0L415.5 798.5L417.0 799.1L418.5 799.1L420.0 799.0L421.5 799.4L423.0 800.0L424.5 800.3L426.0 800.4L427.5 800.7L429.0 801.0L430.5 800.9L432.0 801.3L433.5 801.9L435.0 802.1L436.5 802.1L438.0 802.1L439.5 802.3L441.0 802.2L442.5 802.2L444.0 802.2L445.5 802.5L447.0 802.9L448.5 803.3L450.0 803.3L451.5 803.4L453.0 803.5L454.5 803.4L456.0 803.3L457.5 803.1L459.0 803.4L460.5 803.5L462.0 803.1L463.5 803.3L465.0 803.8L466.5 803.7L468.0 803.5L469.5 803.6L471.0 803.8L472.5 804.1L474.0 804.1L475.5 803.9L477.0 803.8L478.5 804.0L480.0 804.2L481.5 804.2L483.0 804.0L484.5 803.7L486.0 803.4L487.5 803.4L489.0 803.6L490.5 803.4L492.0 802.9L493.5 802.7L495.0 802.8L496.5 802.8L498.0 802.6L499.5 802.5L501.0 802.4L502.5 802.4L504.0 802.4L505.5 802.3L507.0 802.2L508.5 801.8L510.0 801.4L511.5 801.2L513.0 801.1L514.5 801.0L516.0 801.0L517.5 800.8L519.0 800.3L520.5 800.1L522.0 800.3L523.5 800.4L525.0 800.1L526.5 800.0L528.0 800.2L529.5 800.2L531.0 799.9L532.5 799.7L534.0 799.7L535.5 799.7L537.0 799.5L538.5 799.6L540.0 799.8L541.5 799.8L543.0 799.6L544.5 799.4L546.0 799.2L547.5 799.4L549.0 799.5L550.5 799.5L552.0 799.4L553.5 799.4L555.0 799.5L556.5 799.3L558.0 799.1L559.5 799.2L561.0 799.5L562.5 799.6L564.0 799.2L565.5 799.2L567.0 799.4L568.5 799.4L570.0 799.5L571.5 799.4L573.0 799.2L574.5 799.2L576.0 799.5L577.5 799.5L579.0 799.5L580.5 799.7L582.0 799.8L583.5 799.4L585.0 798.9L586.5 798.8L588.0 798.8L589.5 798.9L591.0 798.9L592.5 798.9L594.0 798.9L595.5 798.6L597.0 798.9L598.5 799.5L600.0 799.6L601.5 799.4L603.0 799.4L604.5 799.6L606.0 799.4L607.5 799.0L609.0 798.8L610.5 798.8L612.0 798.8L613.5 798.7L615.0 798.7L616.5 798.8L618.0 798.9L619.5 798.9L621.0 798.6L622.5 798.8L624.0 799.1L625.5 799.1L627.0 799.1L628.5 799.2L630.0 799.1L631.5 798.8L633.0 798.4L634.5 798.3L636.0 798.3L637.5 798.1L639.0 798.1L640.5 798.0L642.0 798.0L643.5 798.3L645.0 798.3L646.5 798.1L648.0 798.0L649.5 798.0L651.0 798.0L652.5 798.0L654.0 798.0L655.5 798.1L657.0 798.2L658.5 798.2L660.0 798.1L661.5 797.8L663.0 797.8L664.5 797.9L666.0 797.8L667.5 797.5L669.0 797.0L670.5 797.0L672.0 797.5L673.5 797.9L675.0 798.0L676.5 797.9L678.0 797.6L679.5 797.4L681.0 797.2L682.5 797.4L684.0 797.4L685.5 797.4L687.0 797.4L688.5 797.4L690.0 797.3L691.5 797.1L693.0 796.9L694.5 796.8L696.0 797.0L697.5 797.2L699.0 797.1L700.5 797.1L702.0 797.1L703.5 797.0L705.0 796.8L706.5 796.5L708.0 796.6L709.5 796.7L711.0 796.4L712.5 796.2L714.0 796.1L715.5 796.1L717.0 796.1L718.5 796.2L720.0 795.9L721.5 795.7L723.0 796.1L724.5 796.2L726.0 795.9L727.5 795.7L729.0 795.4L730.5 795.4L732.0 795.5L733.5 795.6L735.0 795.4L736.5 795.1L738.0 794.9L739.5 794.9L741.0 795.1L742.5 795.0L744.0 794.6L745.5 794.4L747.0 794.6L748.5 794.6L750.0 794.2L751.5 793.7L753.0 793.6L754.5 793.6L756.0 793.4L757.5 793.2L759.0 793.3L760.5 793.3L762.0 792.9L763.5 792.5L765.0 792.5L766.5 792.4L768.0 791.9L769.5 791.8L771.0 791.7L772.5 791.3L774.0 791.1L775.5 790.9L777.0 790.7L778.5 790.4L780.0 790.1L781.5 790.0L783.0 789.6L784.5 789.0L786.0 788.2L787.5 787.8L789.0 787.8L790.5 787.4L792.0 786.9L793.5 786.3L795.0 785.8L796.5 785.3L798.0 784.8L799.5 784.5L801.0 784.1L802.5 783.6L804.0 783.6L805.5 783.4L807.0 782.8L808.5 782.5L810.0 782.6L811.5 782.5L813.0 782.6L814.5 782.5L816.0 782.5L817.5 782.8L819.0 783.3L820.5 783.6L822.0 783.8L823.5 784.0L825.0 784.3L826.5 785.0L828.0 786.1L829.5 786.8L831.0 787.3L832.5 787.7L834.0 788.2L835.5 788.8L837.0 789.3L838.5 789.9L840.0 790.4L841.5 791.0L843.0 791.6L844.5 792.0L846.0 792.6L847.5 793.1L849.0 793.5L850.5 793.8L852.0 793.7L853.5 794.0L855.0 794.8L856.5 795.5L858.0 795.9L859.5 796.0L861.0 796.0L862.5 796.1L864.0 796.5L865.5 796.8L867.0 796.7L868.5 796.8L870.0 797.3L871.5 797.3L873.0 797.2L874.5 797.7L876.0 798.2L877.5 798.4L879.0 798.6L880.5 798.8L882.0 798.8L883.5 799.0L885.0 799.1L886.5 799.2L888.0 799.6L889.5 799.9L891.0 799.5L892.5 799.3L894.0 799.8L895.5 800.4L897.0 800.5L898.5 800.4L900.0 800.4L901.5 800.3L903.0 800.4L904.5 800.8L906.0 801.0L907.5 800.7L909.0 800.9L910.5 801.2L912.0 801.5L913.5 801.8L915.0 802.2L916.5 802.4L918.0 802.5L919.5 802.4L921.0 802.0L922.5 802.2L924.0 802.6L925.5 802.6L927.0 802.4L928.5 802.0L930.0 802.2L931.5 802.7L933.0 802.9L934.5 802.8L936.0 802.6L937.5 802.6L939.0 803.0L940.5 803.4L942.0 803.5L943.5 803.2L945.0 802.9L946.5 803.0L948.0 803.4L949.5 803.5L951.0 803.1L952.5 803.1L954.0 803.0L955.5 802.7L957.0 802.4L958.5 802.7L960.0 802.9L961.5 802.6L963.0 802.2L964.5 802.2L966.0 802.8L967.5 803.0L969.0 802.7L970.5 802.6L972.0 802.5L973.5 802.5L975.0 802.4L976.5 802.4L978.0 802.4L979.5 802.5L981.0 802.5L982.5 802.1L984.0 802.0L985.5 801.8L987.0 801.5L988.5 801.4L990.0 801.6L991.5 801.5L993.0 801.4L994.5 801.4L996.0 801.2L997.5 801.2L999.0 801.2L1000.5 801.3L1002.0 801.1L1003.5 800.8L1005.0 800.7L1006.5 800.5L1008.0 800.2L1009.5 800.1L1011.0 799.8L1012.5 799.5L1014.0 799.5L1015.5 799.4L1017.0 799.2L1018.5 799.0L1020.0 798.5L1021.5 798.1L1023.0 797.8L1024.5 797.3L1026.0 797.0L1027.5 796.8L1029.0 796.6L1030.5 796.3L1032.0 796.3L1033.5 795.9L1035.0 795.2L1036.5 794.9L1038.0 794.6L1039.5 794.4L1041.0 794.2L1042.5 793.6L1044.0 792.8L1045.5 791.9L1047.0 791.2L1048.5 790.9L1050.0 790.4L1051.5 789.8L1053.0 789.5L1054.5 789.2L1056.0 788.8L1057.5 788.3L1059.0 787.6L1060.5 787.0L1062.0 786.6L1063.5 786.3L1065.0 786.0L1066.5 786.0L1068.0 785.7L1069.5 785.7L1071.0 786.4L1072.5 786.7L1074.0 786.6L1075.5 787.1L1077.0 788.1L1078.5 788.2L1080.0 788.2L1081.5 789.1L1083.0 790.3L1084.5 791.0L1086.0 791.6L1087.5 792.3L1089.0 792.7L1090.5 793.0L1092.0 793.4L1093.5 794.1L1095.0 794.7L1096.5 795.4L1098.0 796.3L1099.5 796.7L1101.0 796.9L1102.5 797.3L1104.0 797.9L1105.5 798.1L1107.0 798.2L1108.5 798.8L1110.0 799.5L1111.5 799.6L1113.0 799.5L1114.5 799.5L1116.0 799.6L1117.5 800.2L1119.0 800.8L1120.5 800.9L1122.0 800.8L1123.5 801.0L1125.0 801.3L1126.5 801.5L1128.0 801.6L1129.5 801.8L1131.0 802.3L1132.5 802.5L1134.0 802.3L1135.5 802.4L1137.0 802.6L1138.5 802.4L1140.0 802.4L1141.5 802.7L1143.0 802.9L1144.5 802.8L1146.0 802.8L1147.5 802.9L1149.0 802.7L1150.5 802.4L1152.0 802.6L1153.5 802.9L1155.0 802.8L1156.5 803.0L1158.0 803.2L1159.5 803.1L1161.0 802.9L1162.5 802.7L1164.0 802.6L1165.5 802.4L1167.0 802.4L1168.5 802.5L1170.0 802.5L1171.5 802.6L1173.0 802.4L1174.5 802.1L1176.0 802.1L1177.5 802.0L1179.0 801.5L1180.5 801.3L1182.0 801.3L1183.5 801.5L1185.0 801.5L1186.5 801.3L1188.0 801.1L1189.5 801.1L1191.0 801.4L1192.5 801.4L1194.0 801.0L1195.5 800.7L1197.0 800.8L1198.5 800.9L1200.0 800.9L1201.5 801.0L1203.0 800.7L1204.5 800.2L1206.0 800.2L1207.5 800.4L1209.0 800.4L1210.5 800.3L1212.0 799.9L1213.5 799.7L1215.0 799.9L1216.5 800.1L1218.0 799.7L1219.5 799.3L1221.0 799.1L1222.5 799.1L1224.0 799.2L1225.5 799.4L1227.0 799.4L1228.5 798.9L1230.0 798.5L1231.5 798.4L1233.0 798.2L1234.5 798.0L1236.0 797.9L1237.5 797.6L1239.0 797.4L1240.5 797.3L1242.0 797.0L1243.5 796.8L1245.0 796.7L1246.5 796.6L1248.0 796.6L1249.5 796.2L1251.0 795.7L1252.5 795.2L1254.0 795.1L1255.5 794.9L1257.0 794.5L1258.5 794.0L1260.0 793.5L1261.5 793.4L1263.0 793.3L1264.5 792.8L1266.0 792.4L1267.5 791.9L1269.0 791.2L1270.5 790.7L1272.0 790.5L1273.5 790.2L1275.0 789.6L1276.5 788.9L1278.0 788.4L1279.5 787.7L1281.0 786.6L1282.5 785.6L1284.0 785.0L1285.5 784.5L1287.0 783.8L1288.5 782.9L1290.0 782.2L1291.5 781.6L1293.0 780.7L1294.5 779.8L1296.0 778.9L1297.5 777.7L1299.0 776.6L1300.5 775.6L1302.0 774.2L1303.5 773.1L1305.0 772.4L1306.5 771.5L1308.0 770.4L1309.5 769.4L1311.0 768.2L1312.5 766.9L1314.0 765.7L1315.5 764.6L1317.0 763.7L1318.5 762.8L1320.0 761.7L1321.5 761.1L1323.0 760.4L1324.5 759.1L1326.0 758.2L1327.5 757.6L1329.0 756.8L1330.5 756.0L1332.0 755.6L1333.5 755.1L1335.0 754.5L1336.5 754.2L1338.0 754.2L1339.5 754.4L1341.0 754.7L1342.5 755.0L1344.0 755.1L1345.5 755.5L1347.0 756.3L1348.5 757.2L1350.0 758.1L1351.5 758.9L1353.0 759.9L1354.5 761.3L1356.0 763.0L1357.5 764.6L1359.0 765.7L1360.5 766.6L1362.0 767.9L1363.5 769.4L1365.0 770.7L1366.5 772.0L1368.0 773.3L1369.5 774.3L1371.0 775.0L1372.5 775.9L1374.0 777.0L1375.5 777.9L1377.0 779.1L1378.5 780.0L1380.0 780.7L1381.5 781.5L1383.0 782.5L1384.5 783.6L1386.0 783.9L1387.5 784.2L1389.0 785.1L1390.5 785.9L1392.0 786.3L1393.5 786.9L1395.0 787.6L1396.5 788.2L1398.0 788.6L1399.5 788.8L1401.0 789.2L1402.5 789.4L1404.0 789.8L1405.5 790.4L1407.0 790.8L1408.5 791.6L1410.0 792.4L1411.5 792.5L1413.0 792.2L1414.5 792.3L1416.0 792.7L1417.5 792.9L1419.0 793.3L1420.5 794.0L1422.0 794.4L1423.5 795.0L1425.0 795.6L1426.5 795.5L1428.0 795.4L1429.5 795.6L1431.0 795.7L1432.5 795.8L1434.0 796.2L1435.5 796.6L1437.0 796.6L1438.5 796.4L1440.0 796.5L1441.5 796.9L1443.0 797.3L1444.5 797.7L1446.0 798.0L1447.5 798.2L1449.0 798.2L1450.5 798.4L1452.0 798.6L1453.5 798.5L1455.0 798.5L1456.5 798.8L1458.0 798.7L1459.5 798.8L1461.0 799.3L1462.5 799.6L1464.0 799.9L1465.5 799.8L1467.0 799.7L1468.5 799.9L1470.0 800.2L1471.5 800.7L1473.0 800.9L1474.5 800.7L1476.0 800.6L1477.5 800.8L1479.0 800.9L1480.5 800.8L1482.0 800.9L1483.5 801.3L1485.0 801.4L1486.5 801.3L1488.0 801.2L1489.5 801.2L1491.0 801.7L1492.5 801.7L1494.0 801.4L1495.5 801.5L1497.0 801.9L1498.5 802.5L1500.0 802.4L1501.5 802.3L1503.0 802.8L1504.5 802.9L1506.0 802.3L1507.5 802.2L1509.0 802.7L1510.5 802.8L1512.0 802.8L1513.5 803.0L1515.0 803.5L1516.5 803.7L1518.0 803.6L1519.5 803.4L1521.0 803.5L1522.5 803.5L1524.0 803.4L1525.5 803.7L1527.0 803.7L1528.5 803.7L1530.0 803.9L1531.5 804.1L1533.0 804.4L1534.5 804.4L1536.0 804.0L1537.5 803.8L1539.0 803.9L1540.5 803.9"/>
<path stroke="#008000" d="M118.5 552.0L120.0 551.8L121.5 551.2L123.0 551.3L124.5 551.7L126.0 551.7L127.5 551.6L129.0 551.5L130.5 551.3L132.0 551.1L133.5 550.9L135.0 550.5L136.5 550.5L138.0 550.6L139.5 550.6L141.0 550.7L142.5 550.8L144.0 550.6L145.5 550.3L147.0 550.0L148.5 549.5L150.0 549.2L151.5 549.2L153.0 549.0L154.5 548.4L156.0 548.1L157.5 548.1L159.0 548.0L160.5 547.9L162.0 547.6L163.5 547.1L165.0 546.8L166.5 546.4L168.0 546.0L169.5 545.5L171.0 544.9L172.5 544.3L174.0 543.9L175.5 543.6L177.0 543.0L178.5 542.6L180.0 542.3L181.5 541.7L183.0 541.1L184.5 540.9L186.0 540.5L187.5 539.9L189.0 539.3L190.5 538.7L192.0 538.0L193.5 537.8L195.0 537.4L196.5 536.7L198.0 535.8L199.5 534.9L201.0 534.1L202.5 533.6L204.0 532.9L205.5 531.9L207.0 530.9L208.5 529.8L210.0 528.4L211.5 527.0L213.0 525.3L214.5 523.3L216.0 521.2L217.5 518.9L219.0 516.7L220.5 514.2L222.0 511.2L223.5 508.1L225.0 504.9L226.5 501.4L228.0 497.5L229.5 493.3L231.0 488.8L232.5 483.7L234.0 478.2L235.5 472.6L237.0 466.1L238.5 458.8L240.0 451.2L241.5 443.0L243.0 433.6L244.5 423.4L246.0 412.5L247.5 400.6L249.0 387.5L250.5 373.1L252.0 357.6L253.5 341.0L255.0 322.7L256.5 303.1L258.0 282.5L259.5 260.5L261.0 237.6L262.5 214.8L264.0 192.2L265.5 170.1L267.0 149.6L268.5 131.4L270.0 116.3L271.5 105.5L273.0 99.4L274.5 97.8L276.0 100.8L277.5 108.0L279.0 118.3L280.5 131.6L282.0 147.8L283.5 165.6L285.0 184.8L286.5 205.3L288.0 226.0L289.5 246.1L291.0 265.7L292.5 284.8L294.0 303.2L295.5 320.9L297.0 337.6L298.5 353.4L300.0 368.1L301.5 382.1L303.0 395.0L304.5 406.7L306.0 417.2L307.5 427.4L309.0 437.3L310.5 446.2L312.0 454.6L313.5 462.3L315.0 469.4L316.5 476.1L318.0 482.3L319.5 487.8L321.0 493.1L322.5 498.3L324.0 503.0L325.5 507.3L327.0 511.4L328.5 515.2L330.0 518.6L331.5 521.8L333.0 524.8L334.5 527.6L336.0 530.3L337.5 533.0L339.0 535.4L340.5 537.8L342.0 540.1L343.5 541.8L345.0 543.7L346.5 545.6L348.0 546.9L349.5 548.2L351.0 549.4L352.5 550.2L354.0 550.8L355.5 551.7L357.0 552.8L358.5 553.5L360.0 553.9L361.5 554.6L363.0 555.4L364.5 556.0L366.0 556.2L367.5 556.2L369.0 556.3L370.5 556.5L372.0 556.8L373.5 556.6L375.0 555.6L376.5 554.4L378.0 553.4L379.5 552.3L381.0 551.3L382.5 550.7L384.0 550.6L385.5 551.1L387.0 552.2L388.5 553.4L390.0 554.3L391.5 555.2L393.0 555.8L394.5 556.3L396.0 556.8L397.5 557.2L399.0 558.0L400.5 558.6L402.0 558.9L403.5 559.4L405.0 560.2L406.5 560.9L408.0 561.4L409.5 561.9L411.0 562.5L412.5 562.9L414.0 563.2L415.5 563.8L417.0 564.3L418.5 564.6L420.0 565.2L421.5 565.6L423.0 565.9L424.5 566.0L426.0 566.1L427.5 566.6L429.0 567.3L430.5 567.8L432.0 568.1L433.5 568.3L435.0 568.3L436.5 568.2L438.0 568.1L439.5 568.3L441.0 568.5L442.5 568.6L444.0 568.8L445.5 569.3L447.0 569.3L448.5 569.2L450.0 569.5L451.5 569.6L453.0 569.6L454.5 569.7L456.0 569.6L457.5 569.5L459.0 569.8L460.5 570.3L462.0 570.6L463.5 570.5L465.0 570.3L466.5 570.4L468.0 570.7L469.5 570.8L471.0 570.5L472.5 570.5L474.0 570.7L475.5 570.5L477.0 570.1L478.5 569.8L480.0 569.7L481.5 569.9L483.0 569.6L484.5 568.9L486.0 568.7L487.5 569.0L489.0 569.0L490.5 568.7L492.0 568.1L493.5 567.4L495.0 567.2L496.5 567.4L498.0 567.4L499.5 567.2L501.0 566.9L502.5 566.8L504.0 566.8L505.5 566.7L507.0 566.6L508.5 566.6L510.0 566.7L511.5 566.8L513.0 566.6L514.5 566.2L516.0 566.0L517.5 566.2L519.0 566.2L520.5 566.2L522.0 566.3L523.5 566.5L525.0 566.3L526.5 566.1L528.0 566.0L529.5 566.1L531.0 566.4L532.5 566.5L534.0 566.1L535.5 566.1L537.0 566.3L538.5 566.6L540.0 566.8L541.5 566.8L543.0 566.6L544.5 566.7L546.0 567.0L547.5 567.1L549.0 567.1L550.5 566.8L552.0 566.4L553.5 566.3L555.0 566.6L556.5 566.9L558.0 567.0L559.5 567.1L561.0 567.2L562.5 567.2L564.0 567.2L565.5 566.9L567.0 566.6L568.5 566.8L570.0 567.0L571.5 566.9L573.0 567.1L574.5 567.1L576.0 566.7L577.5 566.5L579.0 566.4L580.5 566.4L582.0 566.2L583.5 565.9L585.0 566.0L586.5 566.0L588.0 565.9L589.5 566.0L591.0 565.9L592.5 565.8L594.0 566.1L595.5 566.3L597.0 565.8L598.5 565.3L600.0 565.3L601.5 565.4L603.0 565.4L604.5 565.1L606.0 564.7L607.5 564.6L609.0 564.9L610.5 565.1L612.0 564.8L613.5 564.5L615.0 564.9L616.5 565.3L618.0 564.9L619.5 564.4L621.0 564.6L622.5 564.9L624.0 564.8L625.5 564.4L627.0 564.1L628.5 564.2L630.0 564.4L631.5 564.6L633.0 564.6L634.5 564.5L636.0 564.4L637.5 564.1L639.0 564.0L640.5 564.2L642.0 564.2L643.5 564.2L645.0 564.3L646.5 564.1L648.0 563.8L649.5 563.8L651.0 563.6L652.5 563.4L654.0 563.6L655.5 564.0L657.0 563.9L658.5 563.6L660.0 563.8L661.5 563.9L663.0 563.6L664.5 563.8L666.0 564.0L667.5 563.7L669.0 563.6L670.5 563.5L672.0 563.0L673.5 562.7L675.0 562.7L676.5 563.0L678.0 563.1L679.5 562.8L681.0 562.6L682.5 562.8L684.0 562.9L685.5 562.9L687.0 562.7L688.5 562.6L690.0 562.6L691.5 562.4L693.0 562.2L694.5 562.2L696.0 562.9L697.5 563.2L699.0 562.6L700.5 561.9L702.0 562.0L703.5 562.0L705.0 561.6L706.5 561.5L708.0 561.5L709.5 561.3L711.0 561.4L712.5 561.5L714.0 561.4L715.5 561.4L717.0 561.4L718.5 560.9L720.0 560.6L721.5 561.1L723.0 561.3L724.5 561.0L726.0 560.6L727.5 560.2L729.0 560.2L730.5 560.6L732.0 560.6L733.5 560.2L735.0 559.8L736.5 559.4L738.0 559.3L739.5 559.3L741.0 559.4L742.5 559.2L744.0 559.1L745.5 559.2L747.0 559.1L748.5 558.9L750.0 558.7L751.5 558.3L753.0 557.9L754.5 557.9L756.0 557.8L757.5 557.7L759.0 557.5L760.5 557.4L762.0 557.3L763.5 557.1L765.0 556.8L766.5 556.6L768.0 556.4L769.5 556.3L771.0 556.1L772.5 555.7L774.0 555.2L775.5 554.8L777.0 554.6L778.5 554.3L780.0 553.8L781.5 553.5L783.0 553.3L784.5 553.0L786.0 552.9L787.5 552.8L789.0 552.6L790.5 552.2L792.0 551.5L793.5 551.0L795.0 551.0L796.5 551.0L798.0 550.7L799.5 550.0L801.0 549.8L802.5 549.6L804.0 548.9L805.5 548.7L807.0 548.8L808.5 548.5L810.0 548.2L811.5 548.4L813.0 548.6L814.5 548.3L816.0 548.1L817.5 548.5L819.0 549.1L820.5 549.5L822.0 549.8L823.5 550.3L825.0 550.9L826.5 551.4L828.0 551.9L829.5 552.4L831.0 552.9L832.5 553.6L834.0 554.0L835.5 554.5L837.0 555.1L838.5 555.4L840.0 555.9L841.5 556.6L843.0 557.2L844.5 557.8L846.0 558.6L847.5 559.2L849.0 559.5L850.5 560.0L852.0 560.2L853.5 560.0L855.0 559.9L856.5 560.4L858.0 561.2L859.5 561.6L861.0 561.8L862.5 562.3L864.0 562.6L865.5 562.6L867.0 562.6L868.5 562.9L870.0 563.5L871.5 564.0L873.0 564.2L874.5 564.3L876.0 564.5L877.5 564.8L879.0 565.2L880.5 565.7L882.0 565.8L883.5 565.7L885.0 565.7L886.5 565.9L888.0 566.1L889.5 566.3L891.0 566.5L892.5 566.6L894.0 566.6L895.5 566.8L897.0 567.4L898.5 568.0L900.0 568.0L901.5 567.9L903.0 568.0L904.5 568.2L906.0 568.5L907.5 568.3L909.0 568.0L910.5 568.2L912.0 568.4L913.5 568.5L915.0 568.5L916.5 568.6L918.0 568.8L919.5 568.9L921.0 569.2L922.5 569.4L924.0 569.0L925.5 569.0L927.0 569.6L928.5 569.8L930.0 569.8L931.5 569.9L933.0 570.0L934.5 570.1L936.0 570.2L937.5 570.2L939.0 570.2L940.5 570.3L942.0 570.4L943.5 570.4L945.0 570.5L946.5 570.7L948.0 570.6L949.5 570.5L951.0 570.3L952.5 570.3L954.0 570.4L955.5 570.3L957.0 570.4L958.5 570.4L960.0 570.1L961.5 569.9L963.0 569.9L964.5 569.7L966.0 569.9L967.5 570.1L969.0 570.0L970.5 569.9L972.0 569.9L973.5 570.0L975.0 569.8L976.5 569.2L978.0 568.7L979.5 569.0L981.0 569.3L982.5 569.1L984.0 569.0L985.5 569.0L987.0 568.7L988.5 568.7L990.0 568.7L991.5 568.5L993.0 568.4L994.5 568.2L996.0 567.8L997.5 567.7L999.0 567.6L1000.5 567.6L1002.0 567.6L1003.5 567.3L1005.0 566.8L1006.5 566.5L1008.0 566.5L1009.5 566.6L1011.0 566.2L1012.5 566.0L1014.0 565.7L1015.5 565.1L1017.0 564.8L1018.5 564.5L1020.0 564.2L1021.5 563.9L1023.0 563.7L1024.5 563.5L1026.0 563.2L1027.5 563.0L1029.0 562.7L1030.5 562.2L1032.0 561.9L1033.5 561.7L1035.0 561.5L1036.5 561.2L1038.0 560.7L1039.5 560.2L1041.0 559.8L1042.5 559.4L1044.0 558.9L1045.5 558.5L1047.0 557.9L1048.5 557.2L1050.0 556.7L1051.5 556.6L1053.0 556.3L1054.5 555.8L1056.0 555.1L1057.5 555.0L1059.0 555.1L1060.5 554.8L1062.0 554.7L1063.5 554.5L1065.0 554.5L1066.5 554.5L1068.0 554.2L1069.5 554.3L1071.0 555.0L1072.5 555.5L1074.0 555.9L1075.5 556.4L1077.0 556.8L1078.5 557.2L1080.0 557.8L1081.5 558.2L1083.0 558.5L1084.5 559.0L1086.0 559.6L1087.5 560.1L1089.0 560.6L1090.5 561.1L1092.0 561.6L1093.5 561.9L1095.0 561.8L1096.5 562.1L1098.0 562.7L1099.5 563.1L1101.0 563.6L1102.5 564.0L1104.0 564.0L1105.5 564.2L1107.0 564.3L1108.5 564.5L1110.0 564.9L1111.5 565.3L1113.0 565.6L1114.5 565.8L1116.0 566.1L1117.5 566.1L1119.0 566.0L1120.5 566.3L1122.0 566.8L1123.5 567.1L1125.0 567.2L1126.5 567.4L1128.0 567.5L1129.5 567.5L1131.0 568.0L1132.5 568.4L1134.0 568.6L1135.5 568.8L1137.0 569.0L1138.5 569.0L1140.0 568.9L1141.5 569.0L1143.0 569.2L1144.5 569.1L1146.0 568.9L1147.5 569.1L1149.0 569.4L1150.5 569.6L1152.0 569.4L1153.5 569.2L1155.0 569.1L1156.5 568.8L1158.0 568.7L1159.5 569.0L1161.0 569.3L1162.5 569.3L1164.0 569.0L1165.5 568.9L1167.0 569.0L1168.5 568.9L1170.0 568.8L1171.5 568.8L1173.0 568.6L1174.5 568.3L1176.0 568.1L1177.5 568.0L1179.0 567.9L1180.5 568.0L1182.0 568.2L1183.5 568.3L1185.0 568.1L1186.5 567.5L1188.0 567.4L1189.5 567.6L1191.0 567.6L1192.5 567.5L1194.0 567.2L1195.5 567.0L1197.0 566.9L1198.5 566.8L1200.0 566.6L1201.5 566.7L1203.0 566.6L1204.5 566.4L1206.0 566.2L1207.5 566.1L1209.0 566.1L1210.5 566.2L1212.0 566.0L1213.5 565.7L1215.0 565.5L1216.5 565.5L1218.0 565.3L1219.5 564.9L1221.0 564.8L1222.5 564.6L1224.0 564.2L1225.5 564.0L1227.0 564.0L1228.5 563.9L1230.0 563.7L1231.5 563.5L1233.0 563.3L1234.5 562.9L1236.0 562.4L1237.5 562.2L1239.0 562.1L1240.5 561.7L1242.0 561.3L1243.5 561.3L1245.0 561.3L1246.5 560.8L1248.0 560.4L1249.5 560.1L1251.0 559.8L1252.5 559.6L1254.0 559.1L1255.5 558.5L1257.0 558.2L1258.5 557.9L1260.0 557.3L1261.5 557.0L1263.0 556.7L1264.5 556.3L1266.0 555.6L1267.5 554.8L1269.0 554.1L1270.5 553.3L1272.0 552.9L1273.5 552.6L1275.0 551.8L1276.5 551.0L1278.0 550.7L1279.5 550.1L1281.0 549.0L1282.5 548.0L1284.0 547.4L1285.5 546.5L1287.0 545.5L1288.5 545.1L1290.0 544.6L1291.5 543.4L1293.0 542.4L1294.5 541.8L1296.0 540.9L1297.5 539.7L1299.0 538.7L1300.5 538.1L1302.0 537.3L1303.5 536.2L1305.0 534.9L1306.5 534.1L1308.0 533.3L1309.5 532.2L1311.0 531.0L1312.5 530.0L1314.0 528.9L1315.5 528.2L1317.0 527.7L1318.5 527.0L1320.0 526.1L1321.5 525.1L1323.0 524.1L1324.5 523.6L1326.0 523.5L1327.5 523.2L1329.0 522.4L1330.5 521.6L1332.0 521.4L1333.5 521.6L1335.0 521.5L1336.5 521.2L1338.0 521.6L1339.5 522.3L1341.0 522.7L1342.5 522.9L1344.0 523.5L1345.5 524.3L1347.0 524.8L1348.5 525.6L1350.0 526.8L1351.5 528.3L1353.0 529.4L1354.5 530.2L1356.0 530.8L1357.5 531.6L1359.0 532.8L1360.5 534.3L1362.0 535.4L1363.5 536.2L1365.0 537.0L1366.5 537.6L1368.0 538.5L1369.5 539.6L1371.0 540.5L1372.5 541.1L1374.0 542.0L1375.5 543.0L1377.0 543.7L1378.5 544.4L1380.0 545.1L1381.5 546.0L1383.0 547.0L1384.5 547.6L1386.0 548.1L1387.5 548.8L1389.0 549.5L1390.5 549.9L1392.0 550.2L1393.5 550.8L1395.0 551.3L1396.5 551.6L1398.0 552.2L1399.5 552.8L1401.0 553.2L1402.5 553.6L1404.0 553.6L1405.5 553.9L1407.0 554.7L1408.5 555.5L1410.0 555.9L1411.5 556.0L1413.0 556.3L1414.5 556.9L1416.0 557.4L1417.5 557.5L1419.0 557.8L1420.5 558.3L1422.0 558.7L1423.5 559.1L1425.0 559.5L1426.5 559.6L1428.0 559.4L1429.5 559.6L1431.0 560.3L1432.5 560.7L1434.0 561.0L1435.5 561.4L1437.0 561.8L1438.5 562.1L1440.0 562.2L1441.5 562.3L1443.0 562.4L1444.5 562.5L1446.0 562.7L1447.5 563.2L1449.0 563.6L1450.5 563.8L1452.0 563.7L1453.5 563.7L1455.0 563.8L1456.5 564.1L1458.0 564.4L1459.5 564.8L1461.0 565.1L1462.5 565.4L1464.0 565.4L1465.5 565.3L1467.0 565.5L1468.5 565.9L1470.0 566.1L1471.5 566.0L1473.0 566.1L1474.5 566.6L1476.0 566.8L1477.5 566.7L1479.0 566.6L1480.5 566.6L1482.0 566.9L1483.5 567.1L1485.0 567.3L1486.5 567.4L1488.0 567.5L1489.5 567.6L1491.0 567.5L1492.5 567.6L1494.0 567.5L1495.5 567.2L1497.0 567.2L1498.5 567.6L1500.0 567.9L1501.5 568.1L1503.0 568.3L1504.5 568.1L1506.0 568.0L1507.5 568.0L1509.0 568.0L1510.5 568.0L1512.0 568.1L1513.5 568.2L1515.0 568.2L1516.5 568.5L1518.0 568.9L1519.5 569.2L1521.0 569.2L1522.5 568.9L1524.0 568.5L1525.5 568.5L1527.0 568.5L1528.5 568.4L1530.0 568.6L1531.5 568.6L1533.0 568.4L1534.5 568.3L1536.0 568.5L1537.5 568.8L1539.0 568.8L1540.5 568.7"/>
</g>
<g clip-path="url(#cb)" fill="none" stroke-width="9.0" stroke-linejoin="round" stroke-linecap="butt">
<path stroke="#000000" d="M1628.2 1625.9L1629.7 1626.1L1631.2 1626.0L1632.7 1625.6L1634.2 1625.4L1635.7 1625.5L1637.2 1625.6L1638.7 1625.6L1640.2 1625.4L1641.7 1625.2L1643.2 1625.4L1644.7 1625.5L1646.2 1625.3L1647.7 1625.2L1649.2 1625.1L1650.7 1625.2L1652.2 1625.2L1653.7 1624.9L1655.2 1624.8L1656.7 1624.8L1658.2 1624.4L1659.7 1624.2L1661.2 1624.3L1662.7 1624.1L1664.2 1623.7L1665.7 1623.7L1667.2 1623.7L1668.7 1623.5L1670.2 1623.3L1671.7 1623.6L1673.2 1623.6L1674.7 1623.3L1676.2 1623.0L1677.7 1623.0L1679.2 1622.9L1680.7 1622.6L1682.2 1622.5L1683.7 1622.4L1685.2 1621.9L1686.7 1621.5L1688.2 1621.4L1689.7 1621.3L1691.2 1620.9L1692.7 1620.2L1694.2 1619.7L1695.7 1619.3L1697.2 1618.9L1698.7 1618.8L1700.2 1618.4L1701.7 1617.9L1703.2 1617.7L1704.7 1617.2L1706.2 1616.5L1707.7 1615.9L1709.2 1615.1L1710.7 1614.2L1712.2 1613.6L1713.7 1612.8L1715.2 1611.7L1716.7 1611.0L1718.2 1610.4L1719.7 1609.5L1721.2 1608.4L1722.7 1607.4L1724.2 1606.4L1725.7 1605.2L1727.2 1604.2L1728.7 1603.0L1730.2 1601.7L1731.7 1600.4L1733.2 1599.2L1734.7 1597.7L1736.2 1596.0L1737.7 1594.5L1739.2 1593.0L1740.7 1591.0L1742.2 1588.7L1743.7 1586.7L1745.2 1584.6L1746.7 1582.0L1748.2 1579.5L1749.7 1577.0L1751.2 1574.1L1752.7 1571.3L1754.2 1568.1L1755.7 1564.3L1757.2 1560.5L1758.7 1556.7L1760.2 1552.8L1761.7 1548.8L1763.2 1543.8L1764.7 1538.0L1766.2 1532.5L1767.7 1527.0L1769.2 1520.8L1770.7 1513.6L1772.2 1506.0L1773.7 1498.1L1775.2 1489.6L1776.7 1480.4L1778.2 1470.7L1779.7 1460.4L1781.2 1449.4L1782.7 1437.6L1784.2 1425.1L1785.7 1412.0L1787.2 1398.8L1788.7 1385.3L1790.2 1370.9L1791.7 1356.7L1793.2 1343.0L1794.7 1329.8L1796.2 1317.2L1797.7 1305.4L1799.2 1295.0L1800.7 1287.0L1802.2 1281.8L1803.7 1278.6L1805.2 1277.3L1806.7 1278.2L1808.2 1280.9L1809.7 1284.9L1811.2 1290.3L1812.7 1297.0L1814.2 1304.9L1815.7 1313.7L1817.2 1323.0L1818.7 1332.9L1820.2 1343.2L1821.7 1353.7L1823.2 1364.2L1824.7 1375.1L1826.2 1386.3L1827.7 1397.0L1829.2 1407.5L1830.7 1417.8L1832.2 1427.8L1833.7 1437.2L1835.2 1446.2L1836.7 1454.7L1838.2 1462.8L1839.7 1470.7L1841.2 1478.3L1842.7 1485.4L1844.2 1492.4L1845.7 1499.0L1847.2 1505.3L1848.7 1510.8L1850.2 1516.2L1851.7 1521.7L1853.2 1527.0L1854.7 1531.8L1856.2 1536.1L1857.7 1540.0L1859.2 1544.2L1860.7 1548.4L1862.2 1552.1L1863.7 1555.6L1865.2 1558.8L1866.7 1561.4L1868.2 1564.3L1869.7 1567.2L1871.2 1569.9L1872.7 1572.3L1874.2 1574.7L1875.7 1576.7L1877.2 1578.7L1878.7 1580.8L1880.2 1582.9L1881.7 1584.9L1883.2 1586.7L1884.7 1588.7L1886.2 1590.4L1887.7 1591.9L1889.2 1593.4L1890.7 1594.7L1892.2 1596.0L1893.7 1597.4L1895.2 1598.7L1896.7 1600.1L1898.2 1601.4L1899.7 1602.4L1901.2 1603.4L1902.7 1604.6L1904.2 1605.5L1905.7 1606.4L1907.2 1607.4L1908.7 1608.4L1910.2 1609.3L1911.7 1610.0L1913.2 1610.7L1914.7 1611.6L1916.2 1612.7L1917.7 1613.2L1919.2 1613.6L1920.7 1614.2L1922.2 1614.9L1923.7 1615.7L1925.2 1616.1L1926.7 1616.7L1928.2 1617.2L1929.7 1617.4L1931.2 1618.1L1932.7 1618.8L1934.2 1619.1L1935.7 1619.5L1937.2 1619.9L1938.7 1620.2L1940.2 1620.5L1941.7 1620.8L1943.2 1621.1L1944.7 1621.3L1946.2 1621.7L1947.7 1621.9L1949.2 1622.0L1950.7 1622.7L1952.2 1623.3L1953.7 1623.4L1955.2 1623.4L1956.7 1623.7L1958.2 1623.9L1959.7 1624.1L1961.2 1624.2L1962.7 1624.2L1964.2 1624.6L1965.7 1624.9L1967.2 1625.0L1968.7 1625.1L1970.2 1625.3L1971.7 1625.8L1973.2 1626.5L1974.7 1626.9L1976.2 1626.9L1977.7 1627.1L1979.2 1626.9L1980.7 1626.8L1982.2 1627.3L1983.7 1627.6L1985.2 1627.7L1986.7 1627.9L1988.2 1628.0L1989.7 1627.7L1991.2 1627.6L1992.7 1627.8L1994.2 1627.8L1995.7 1627.8L1997.2 1628.0L1998.7 1627.9L2000.2 1627.4L2001.7 1627.2L2003.2 1627.0L2004.7 1626.6L2006.2 1626.1L2007.7 1625.6L2009.2 1625.4L2010.7 1625.3L2012.2 1624.8L2013.7 1624.3L2015.2 1624.3L2016.7 1624.5L2018.2 1624.3L2019.7 1624.5L2021.2 1624.8L2022.7 1624.9L2024.2 1625.3L2025.7 1625.6L2027.2 1625.9L2028.7 1626.5L2030.2 1626.8L2031.7 1626.9L2033.2 1627.3L2034.7 1627.4L2036.2 1627.3L2037.7 1627.7L2039.2 1628.3L2040.7 1628.6"/>
<path stroke="#000000" d="M1628.2 1456.6L1629.7 1456.7L1631.2 1456.6L1632.7 1456.5L1634.2 1456.2L1635.7 1455.7L1637.2 1455.3L1638.7 1455.1L1640.2 1455.2L1641.7 1455.3L1643.2 1455.0L1644.7 1454.6L1646.2 1454.2L1647.7 1454.0L1649.2 1454.1L1650.7 1454.2L1652.2 1454.1L1653.7 1453.7L1655.2 1453.3L1656.7 1453.1L1658.2 1452.8L1659.7 1452.4L1661.2 1452.1L1662.7 1451.8L1664.2 1451.5L1665.7 1451.3L1667.2 1451.0L1668.7 1450.8L1670.2 1450.6L1671.7 1450.2L1673.2 1450.1L1674.7 1449.7L1676.2 1449.2L1677.7 1448.9L1679.2 1448.7L1680.7 1448.5L1682.2 1448.2L1683.7 1447.8L1685.2 1447.6L1686.7 1447.5L1688.2 1446.9L1689.7 1446.3L1691.2 1446.0L1692.7 1445.6L1694.2 1445.1L1695.7 1444.6L1697.2 1443.7L1698.7 1442.9L1700.2 1442.6L1701.7 1442.2L1703.2 1441.5L1704.7 1440.9L1706.2 1440.2L1707.7 1439.4L1709.2 1438.8L1710.7 1438.1L1712.2 1437.1L1713.7 1436.1L1715.2 1435.3L1716.7 1434.3L1718.2 1432.9L1719.7 1431.6L1721.2 1430.5L1722.7 1429.0L1724.2 1427.6L1725.7 1426.6L1727.2 1425.7L1728.7 1424.4L1730.2 1422.6L1731.7 1421.2L1733.2 1420.0L1734.7 1418.8L1736.2 1417.3L1737.7 1415.9L1739.2 1414.3L1740.7 1412.4L1742.2 1410.4L1743.7 1408.1L1745.2 1405.9L1746.7 1404.0L1748.2 1401.9L1749.7 1399.5L1751.2 1396.9L1752.7 1394.1L1754.2 1390.9L1755.7 1387.3L1757.2 1384.0L1758.7 1380.8L1760.2 1376.9L1761.7 1372.7L1763.2 1368.6L1764.7 1363.9L1766.2 1358.9L1767.7 1353.8L1769.2 1348.1L1770.7 1341.9L1772.2 1335.6L1773.7 1328.7L1775.2 1321.2L1776.7 1313.2L1778.2 1304.7L1779.7 1296.0L1781.2 1286.9L1782.7 1276.9L1784.2 1266.5L1785.7 1255.6L1787.2 1244.3L1788.7 1232.6L1790.2 1220.3L1791.7 1207.8L1793.2 1195.6L1794.7 1183.3L1796.2 1171.0L1797.7 1159.1L1799.2 1148.2L1800.7 1138.8L1802.2 1130.5L1803.7 1123.6L1805.2 1118.3L1806.7 1115.2L1808.2 1114.5L1809.7 1115.3L1811.2 1116.7L1812.7 1119.6L1814.2 1123.8L1815.7 1129.0L1817.2 1135.0L1818.7 1141.2L1820.2 1148.2L1821.7 1155.9L1823.2 1164.1L1824.7 1173.0L1826.2 1182.4L1827.7 1191.4L1829.2 1200.4L1830.7 1209.7L1832.2 1219.4L1833.7 1228.7L1835.2 1237.7L1836.7 1246.5L1838.2 1255.4L1839.7 1263.8L1841.2 1272.0L1842.7 1279.9L1844.2 1287.3L1845.7 1294.7L1847.2 1302.2L1848.7 1309.1L1850.2 1315.7L1851.7 1322.3L1853.2 1328.6L1854.7 1334.4L1856.2 1339.9L1857.7 1345.3L1859.2 1350.2L1860.7 1354.8L1862.2 1359.6L1863.7 1364.2L1865.2 1368.2L1866.7 1372.2L1868.2 1376.0L1869.7 1379.5L1871.2 1383.1L1872.7 1386.6L1874.2 1390.0L1875.7 1392.9L1877.2 1395.6L1878.7 1398.5L1880.2 1401.5L1881.7 1404.2L1883.2 1406.6L1884.7 1409.0L1886.2 1411.3L1887.7 1413.2L1889.2 1415.0L1890.7 1416.9L1892.2 1418.5L1893.7 1420.0L1895.2 1422.0L1896.7 1424.2L1898.2 1425.4L1899.7 1426.5L1901.2 1428.4L1902.7 1430.3L1904.2 1431.6L1905.7 1432.7L1907.2 1433.9L1908.7 1435.2L1910.2 1436.6L1911.7 1437.7L1913.2 1438.6L1914.7 1439.8L1916.2 1440.8L1917.7 1441.6L1919.2 1442.5L1920.7 1443.4L1922.2 1444.2L1923.7 1445.2L1925.2 1445.9L1926.7 1446.4L1928.2 1447.0L1929.7 1448.0L1931.2 1449.1L1932.7 1449.7L1934.2 1450.4L1935.7 1451.1L1937.2 1451.9L1938.7 1452.6L1940.2 1453.0L1941.7 1453.6L1943.2 1454.4L1944.7 1455.0L1946.2 1455.6L1947.7 1456.2L1949.2 1457.0L1950.7 1457.7L1952.2 1458.1L1953.7 1458.4L1955.2 1459.1L1956.7 1459.7L1958.2 1460.5L1959.7 1461.1L1961.2 1461.4L1962.7 1461.7L1964.2 1462.1L1965.7 1462.7L1967.2 1463.4L1968.7 1464.2L1970.2 1464.5L1971.7 1465.0L1973.2 1465.5L1974.7 1465.8L1976.2 1466.3L1977.7 1466.9L1979.2 1467.1L1980.7 1467.2L1982.2 1467.4L1983.7 1467.8L1985.2 1467.9L1986.7 1467.8L1988.2 1468.1L1989.7 1468.5L1991.2 1468.3L1992.7 1468.2L1994.2 1468.4L1995.7 1468.6L1997.2 1468.8L1998.7 1468.8L2000.2 1468.3L2001.7 1467.7L2003.2 1467.6L2004.7 1467.5L2006.2 1467.5L2007.7 1467.4L2009.2 1467.0L2010.7 1466.8L2012.2 1466.4L2013.7 1465.7L2015.2 1465.1L2016.7 1464.8L2018.2 1464.6L2019.7 1464.8L2021.2 1465.0L2022.7 1465.2L2024.2 1465.1L2025.7 1465.1L2027.2 1465.8L2028.7 1466.5L2030.2 1466.8L2031.7 1466.8L2033.2 1467.0L2034.7 1467.5L2036.2 1467.7L2037.7 1467.9L2039.2 1468.6L2040.7 1469.4"/>
<path stroke="#ff0000" d="M1628.2 1279.7L1629.7 1279.2L1631.2 1279.4L1632.7 1279.6L1634.2 1279.6L1635.7 1279.6L1637.2 1279.5L1638.7 1279.2L1640.2 1278.9L1641.7 1279.0L1643.2 1278.9L1644.7 1278.6L1646.2 1278.6L1647.7 1278.7L1649.2 1278.6L1650.7 1278.2L1652.2 1277.9L1653.7 1277.8L1655.2 1278.1L1656.7 1278.0L1658.2 1277.9L1659.7 1277.9L1661.2 1277.9L1662.7 1277.7L1664.2 1277.3L1665.7 1277.0L1667.2 1276.6L1668.7 1276.3L1670.2 1275.9L1671.7 1275.8L1673.2 1275.8L1674.7 1275.3L1676.2 1274.8L1677.7 1274.3L1679.2 1274.2L1680.7 1274.1L1682.2 1273.7L1683.7 1273.0L1685.2 1272.4L1686.7 1272.0L1688.2 1271.4L1689.7 1270.9L1691.2 1270.6L1692.7 1270.3L1694.2 1269.8L1695.7 1269.2L1697.2 1268.5L1698.7 1267.8L1700.2 1267.3L1701.7 1266.8L1703.2 1266.0L1704.7 1265.1L1706.2 1264.4L1707.7 1263.7L1709.2 1262.9L1710.7 1262.0L1712.2 1261.1L1713.7 1260.1L1715.2 1258.8L1716.7 1257.5L1718.2 1256.5L1719.7 1255.4L1721.2 1254.0L1722.7 1252.7L1724.2 1251.6L1725.7 1250.4L1727.2 1248.4L1728.7 1246.3L1730.2 1244.6L1731.7 1242.9L1733.2 1241.1L1734.7 1239.4L1736.2 1237.6L1737.7 1235.1L1739.2 1232.6L1740.7 1230.3L1742.2 1227.7L1743.7 1224.7L1745.2 1221.7L1746.7 1218.6L1748.2 1215.2L1749.7 1211.3L1751.2 1207.6L1752.7 1204.2L1754.2 1200.0L1755.7 1195.2L1757.2 1190.3L1758.7 1185.2L1760.2 1179.7L1761.7 1174.2L1763.2 1168.4L1764.7 1161.9L1766.2 1154.9L1767.7 1147.4L1769.2 1139.7L1770.7 1131.3L1772.2 1122.2L1773.7 1112.8L1775.2 1103.1L1776.7 1092.9L1778.2 1082.1L1779.7 1070.3L1781.2 1057.9L1782.7 1045.4L1784.2 1032.4L1785.7 1019.3L1787.2 1006.1L1788.7 992.1L1790.2 978.3L1791.7 964.9L1793.2 951.9L1794.7 939.4L1796.2 927.7L1797.7 917.2L1799.2 908.1L1800.7 900.4L1802.2 894.5L1803.7 891.1L1805.2 889.9L1806.7 890.1L1808.2 891.4L1809.7 894.5L1811.2 898.7L1812.7 903.3L1814.2 909.0L1815.7 915.6L1817.2 922.8L1818.7 930.8L1820.2 939.5L1821.7 948.5L1823.2 958.2L1824.7 968.7L1826.2 978.8L1827.7 988.6L1829.2 998.7L1830.7 1008.9L1832.2 1019.3L1833.7 1029.3L1835.2 1039.0L1836.7 1048.6L1838.2 1058.4L1839.7 1067.9L1841.2 1076.6L1842.7 1085.2L1844.2 1093.7L1845.7 1101.9L1847.2 1109.7L1848.7 1117.0L1850.2 1124.1L1851.7 1131.1L1853.2 1137.7L1854.7 1144.1L1856.2 1150.4L1857.7 1156.2L1859.2 1161.7L1860.7 1167.4L1862.2 1173.0L1863.7 1177.8L1865.2 1182.4L1866.7 1187.1L1868.2 1190.9L1869.7 1194.4L1871.2 1198.3L1872.7 1202.4L1874.2 1206.5L1875.7 1210.0L1877.2 1213.2L1878.7 1216.5L1880.2 1219.6L1881.7 1222.6L1883.2 1225.6L1884.7 1228.3L1886.2 1230.8L1887.7 1233.1L1889.2 1235.4L1890.7 1237.9L1892.2 1240.4L1893.7 1242.7L1895.2 1244.9L1896.7 1246.6L1898.2 1248.3L1899.7 1250.0L1901.2 1251.3L1902.7 1252.4L1904.2 1253.9L1905.7 1255.8L1907.2 1257.4L1908.7 1258.5L1910.2 1259.6L1911.7 1260.9L1913.2 1262.2L1914.7 1262.9L1916.2 1263.5L1917.7 1264.7L1919.2 1265.8L1920.7 1266.2L1922.2 1266.6L1923.7 1267.5L1925.2 1268.8L1926.7 1270.1L1928.2 1271.0L1929.7 1271.5L1931.2 1272.3L1932.7 1273.3L1934.2 1274.1L1935.7 1274.8L1937.2 1275.5L1938.7 1276.4L1940.2 1277.2L1941.7 1277.5L1943.2 1278.1L1944.7 1278.9L1946.2 1279.7L1947.7 1280.3L1949.2 1280.9L1950.7 1281.5L1952.2 1282.0L1953.7 1282.4L1955.2 1282.8L1956.7 1283.4L1958.2 1283.9L1959.7 1284.5L1961.2 1285.3L1962.7 1285.8L1964.2 1286.0L1965.7 1285.9L1967.2 1286.3L1968.7 1287.1L1970.2 1287.4L1971.7 1288.0L1973.2 1288.9L1974.7 1289.1L1976.2 1289.3L1977.7 1289.8L1979.2 1290.3L1980.7 1290.6L1982.2 1290.8L1983.7 1291.0L1985.2 1291.1L1986.7 1291.4L1988.2 1291.6L1989.7 1291.9L1991.2 1291.9L1992.7 1291.8L1994.2 1291.8L1995.7 1291.7L1997.2 1291.4L1998.7 1291.1L2000.2 1290.6L2001.7 1290.1L2003.2 1289.7L2004.7 1289.4L2006.2 1288.7L2007.7 1287.9L2009.2 1287.4L2010.7 1287.1L2012.2 1287.1L2013.7 1287.3L2015.2 1287.5L2016.7 1287.8L2018.2 1287.8L2019.7 1287.7L2021.2 1288.5L2022.7 1289.8L2024.2 1290.4L2025.7 1290.5L2027.2 1291.0L2028.7 1291.6L2030.2 1291.9L2031.7 1292.4L2033.2 1293.0L2034.7 1293.3L2036.2 1293.5L2037.7 1294.0L2039.2 1294.6L2040.7 1294.8"/>
<path stroke="#0000ff" d="M1628.2 1040.0L1629.7 1039.5L1631.2 1039.0L1632.7 1038.8L1634.2 1039.2L1635.7 1039.5L1637.2 1039.4L1638.7 1039.3L1640.2 1039.1L1641.7 1039.0L1643.2 1039.0L1644.7 1038.6L1646.2 1038.6L1647.7 1038.7L1649.2 1038.2L1650.7 1037.8L1652.2 1037.6L1653.7 1037.2L1655.2 1036.8L1656.7 1036.9L1658.2 1037.1L1659.7 1036.8L1661.2 1036.4L1662.7 1036.3L1664.2 1036.1L1665.7 1035.9L1667.2 1035.5L1668.7 1035.0L1670.2 1034.9L1671.7 1034.7L1673.2 1034.5L1674.7 1034.1L1676.2 1033.6L1677.7 1033.3L1679.2 1033.1L1680.7 1032.9L1682.2 1032.6L1683.7 1032.1L1685.2 1031.7L1686.7 1031.4L1688.2 1031.0L1689.7 1030.6L1691.2 1030.0L1692.7 1029.2L1694.2 1028.6L1695.7 1028.1L1697.2 1027.7L1698.7 1027.3L1700.2 1026.6L1701.7 1025.7L1703.2 1024.7L1704.7 1024.0L1706.2 1023.4L1707.7 1022.5L1709.2 1021.5L1710.7 1020.7L1712.2 1019.6L1713.7 1018.2L1715.2 1017.3L1716.7 1016.3L1718.2 1015.0L1719.7 1013.9L1721.2 1013.0L1722.7 1011.7L1724.2 1010.2L1725.7 1008.8L1727.2 1007.2L1728.7 1005.6L1730.2 1004.0L1731.7 1002.5L1733.2 1000.8L1734.7 998.7L1736.2 996.5L1737.7 994.3L1739.2 992.0L1740.7 989.9L1742.2 987.5L1743.7 984.7L1745.2 981.9L1746.7 979.0L1748.2 976.1L1749.7 972.7L1751.2 968.7L1752.7 964.6L1754.2 960.7L1755.7 956.3L1757.2 951.8L1758.7 947.3L1760.2 942.4L1761.7 936.8L1763.2 930.5L1764.7 924.0L1766.2 917.3L1767.7 910.3L1769.2 902.8L1770.7 894.7L1772.2 885.9L1773.7 876.7L1775.2 866.9L1776.7 856.5L1778.2 845.3L1779.7 833.4L1781.2 821.0L1782.7 808.2L1784.2 794.7L1785.7 780.5L1787.2 765.9L1788.7 750.8L1790.2 735.5L1791.7 720.6L1793.2 706.1L1794.7 691.8L1796.2 678.5L1797.7 666.7L1799.2 656.0L1800.7 647.2L1802.2 640.8L1803.7 636.5L1805.2 634.7L1806.7 635.0L1808.2 636.8L1809.7 639.9L1811.2 644.0L1812.7 649.2L1814.2 655.2L1815.7 662.3L1817.2 670.5L1818.7 679.3L1820.2 688.5L1821.7 698.3L1823.2 708.7L1824.7 719.4L1826.2 729.7L1827.7 740.3L1829.2 751.4L1830.7 762.3L1832.2 772.9L1833.7 783.3L1835.2 793.5L1836.7 803.8L1838.2 813.9L1839.7 823.5L1841.2 832.8L1842.7 841.7L1844.2 850.2L1845.7 858.5L1847.2 866.3L1848.7 874.2L1850.2 882.0L1851.7 889.0L1853.2 895.5L1854.7 902.1L1856.2 908.4L1857.7 914.3L1859.2 920.1L1860.7 925.8L1862.2 931.0L1863.7 935.7L1865.2 940.4L1866.7 944.9L1868.2 949.3L1869.7 953.9L1871.2 958.1L1872.7 961.6L1874.2 965.1L1875.7 968.6L1877.2 971.9L1878.7 975.1L1880.2 978.1L1881.7 981.1L1883.2 984.1L1884.7 987.0L1886.2 989.5L1887.7 991.5L1889.2 993.6L1890.7 995.9L1892.2 998.2L1893.7 1000.4L1895.2 1002.1L1896.7 1003.8L1898.2 1005.7L1899.7 1008.0L1901.2 1010.1L1902.7 1011.7L1904.2 1012.9L1905.7 1014.2L1907.2 1015.6L1908.7 1016.8L1910.2 1018.3L1911.7 1020.0L1913.2 1021.4L1914.7 1022.5L1916.2 1023.8L1917.7 1025.3L1919.2 1026.3L1920.7 1027.0L1922.2 1027.9L1923.7 1029.1L1925.2 1030.5L1926.7 1031.5L1928.2 1032.4L1929.7 1033.4L1931.2 1034.0L1932.7 1034.3L1934.2 1035.0L1935.7 1036.2L1937.2 1037.2L1938.7 1037.9L1940.2 1038.9L1941.7 1039.8L1943.2 1040.4L1944.7 1041.3L1946.2 1042.1L1947.7 1042.5L1949.2 1043.0L1950.7 1043.7L1952.2 1044.6L1953.7 1045.3L1955.2 1045.5L1956.7 1045.8L1958.2 1046.6L1959.7 1047.3L1961.2 1047.8L1962.7 1048.4L1964.2 1049.1L1965.7 1049.5L1967.2 1049.7L1968.7 1050.0L1970.2 1050.6L1971.7 1051.1L1973.2 1051.8L1974.7 1052.1L1976.2 1052.4L1977.7 1052.9L1979.2 1053.2L1980.7 1053.5L1982.2 1053.7L1983.7 1053.7L1985.2 1053.8L1986.7 1053.9L1988.2 1053.9L1989.7 1054.2L1991.2 1054.5L1992.7 1054.5L1994.2 1054.5L1995.7 1054.6L1997.2 1054.4L1998.7 1054.2L2000.2 1054.3L2001.7 1053.9L2003.2 1053.4L2004.7 1053.0L2006.2 1052.8L2007.7 1052.6L2009.2 1052.1L2010.7 1051.7L2012.2 1051.4L2013.7 1051.2L2015.2 1050.8L2016.7 1050.4L2018.2 1050.1L2019.7 1050.1L2021.2 1050.2L2022.7 1050.6L2024.2 1050.8L2025.7 1050.9L2027.2 1051.2L2028.7 1051.9L2030.2 1052.4L2031.7 1052.7L2033.2 1053.1L2034.7 1053.5L2036.2 1053.9L2037.7 1054.3L2039.2 1054.9L2040.7 1055.3"/>
<path stroke="#ff00ff" d="M1628.2 806.1L1629.7 806.0L1631.2 806.2L1632.7 806.1L1634.2 806.2L1635.7 806.0L1637.2 805.7L1638.7 805.7L1640.2 805.8L1641.7 805.9L1643.2 805.6L1644.7 805.2L1646.2 805.1L1647.7 805.0L1649.2 805.0L1650.7 805.0L1652.2 804.9L1653.7 804.7L1655.2 804.4L1656.7 803.8L1658.2 803.3L1659.7 803.1L1661.2 803.3L1662.7 803.4L1664.2 803.2L1665.7 802.7L1667.2 802.3L1668.7 802.0L1670.2 801.5L1671.7 801.2L1673.2 801.2L1674.7 800.9L1676.2 800.6L1677.7 800.5L1679.2 800.0L1680.7 799.5L1682.2 799.5L1683.7 799.2L1685.2 798.5L1686.7 797.7L1688.2 796.9L1689.7 796.4L1691.2 796.2L1692.7 795.8L1694.2 795.3L1695.7 794.9L1697.2 794.3L1698.7 793.6L1700.2 792.7L1701.7 791.8L1703.2 791.1L1704.7 790.2L1706.2 789.2L1707.7 788.5L1709.2 787.9L1710.7 786.9L1712.2 785.7L1713.7 784.2L1715.2 783.1L1716.7 782.1L1718.2 781.0L1719.7 779.9L1721.2 778.8L1722.7 777.3L1724.2 775.7L1725.7 774.5L1727.2 773.2L1728.7 771.2L1730.2 769.1L1731.7 767.4L1733.2 765.6L1734.7 763.6L1736.2 761.6L1737.7 759.5L1739.2 757.6L1740.7 755.3L1742.2 752.5L1743.7 749.6L1745.2 746.9L1746.7 743.9L1748.2 740.8L1749.7 737.6L1751.2 733.7L1752.7 729.8L1754.2 726.2L1755.7 722.3L1757.2 717.7L1758.7 712.8L1760.2 707.5L1761.7 701.8L1763.2 696.1L1764.7 689.8L1766.2 682.6L1767.7 675.1L1769.2 667.1L1770.7 658.9L1772.2 650.3L1773.7 640.9L1775.2 631.1L1776.7 620.7L1778.2 609.5L1779.7 597.9L1781.2 585.6L1782.7 572.3L1784.2 558.8L1785.7 544.6L1787.2 529.7L1788.7 514.5L1790.2 499.5L1791.7 485.1L1793.2 470.8L1794.7 457.0L1796.2 444.1L1797.7 432.1L1799.2 421.4L1800.7 412.5L1802.2 405.8L1803.7 401.8L1805.2 400.1L1806.7 400.5L1808.2 402.1L1809.7 405.1L1811.2 409.2L1812.7 414.1L1814.2 420.3L1815.7 427.7L1817.2 435.7L1818.7 444.3L1820.2 453.3L1821.7 462.8L1823.2 473.0L1824.7 483.8L1826.2 494.5L1827.7 505.1L1829.2 515.6L1830.7 526.4L1832.2 537.4L1833.7 548.0L1835.2 558.5L1836.7 568.7L1838.2 578.1L1839.7 587.7L1841.2 597.5L1842.7 606.6L1844.2 615.1L1845.7 623.6L1847.2 631.8L1848.7 639.7L1850.2 647.5L1851.7 654.9L1853.2 662.0L1854.7 668.8L1856.2 675.1L1857.7 681.0L1859.2 686.7L1860.7 692.1L1862.2 697.2L1863.7 702.6L1865.2 707.9L1866.7 712.6L1868.2 717.0L1869.7 721.6L1871.2 725.8L1872.7 729.5L1874.2 733.2L1875.7 736.7L1877.2 740.2L1878.7 743.8L1880.2 746.8L1881.7 749.5L1883.2 752.3L1884.7 755.0L1886.2 757.6L1887.7 760.2L1889.2 762.4L1890.7 764.6L1892.2 767.0L1893.7 769.3L1895.2 771.1L1896.7 773.0L1898.2 774.9L1899.7 776.6L1901.2 778.4L1902.7 780.3L1904.2 781.8L1905.7 783.3L1907.2 784.8L1908.7 785.9L1910.2 786.8L1911.7 787.9L1913.2 789.4L1914.7 790.7L1916.2 791.8L1917.7 793.1L1919.2 794.2L1920.7 794.8L1922.2 795.4L1923.7 796.4L1925.2 797.2L1926.7 797.8L1928.2 798.7L1929.7 799.5L1931.2 800.2L1932.7 801.4L1934.2 802.6L1935.7 803.0L1937.2 803.3L1938.7 804.1L1940.2 804.9L1941.7 805.5L1943.2 806.1L1944.7 806.8L1946.2 807.6L1947.7 808.2L1949.2 808.6L1950.7 809.3L1952.2 810.0L1953.7 810.2L1955.2 810.7L1956.7 811.4L1958.2 811.8L1959.7 811.9L1961.2 812.5L1962.7 813.2L1964.2 813.8L1965.7 814.4L1967.2 815.1L1968.7 816.0L1970.2 816.4L1971.7 816.7L1973.2 817.3L1974.7 817.8L1976.2 817.7L1977.7 817.7L1979.2 818.2L1980.7 818.6L1982.2 818.5L1983.7 818.8L1985.2 819.2L1986.7 819.4L1988.2 819.4L1989.7 819.3L1991.2 819.1L1992.7 819.0L1994.2 819.2L1995.7 819.0L1997.2 818.5L1998.7 818.2L2000.2 818.3L2001.7 817.9L2003.2 817.0L2004.7 816.4L2006.2 816.4L2007.7 816.4L2009.2 816.2L2010.7 815.7L2012.2 815.2L2013.7 815.3L2015.2 815.3L2016.7 815.7L2018.2 816.3L2019.7 816.4L2021.2 816.3L2022.7 816.6L2024.2 817.1L2025.7 817.4L2027.2 817.5L2028.7 817.6L2030.2 817.8L2031.7 817.9L2033.2 818.3L2034.7 818.7L2036.2 818.9L2037.7 818.9L2039.2 819.0L2040.7 819.5"/>
<path stroke="#008000" d="M1628.2 568.6L1629.7 568.7L1631.2 568.8L1632.7 568.8L1634.2 568.5L1635.7 568.1L1637.2 567.8L1638.7 567.4L1640.2 567.0L1641.7 567.0L1643.2 566.9L1644.7 566.6L1646.2 566.6L1647.7 566.7L1649.2 566.5L1650.7 566.2L1652.2 565.9L1653.7 565.3L1655.2 565.0L1656.7 564.9L1658.2 564.6L1659.7 564.4L1661.2 564.2L1662.7 563.9L1664.2 563.6L1665.7 563.3L1667.2 563.0L1668.7 562.5L1670.2 562.1L1671.7 561.8L1673.2 561.5L1674.7 561.2L1676.2 560.9L1677.7 560.4L1679.2 559.5L1680.7 559.1L1682.2 559.0L1683.7 558.7L1685.2 558.2L1686.7 557.5L1688.2 556.8L1689.7 556.1L1691.2 555.4L1692.7 554.7L1694.2 554.0L1695.7 553.2L1697.2 552.5L1698.7 551.9L1700.2 550.8L1701.7 549.6L1703.2 548.6L1704.7 547.7L1706.2 546.4L1707.7 545.0L1709.2 544.2L1710.7 543.5L1712.2 542.4L1713.7 541.3L1715.2 540.2L1716.7 539.2L1718.2 538.3L1719.7 537.0L1721.2 535.7L1722.7 534.6L1724.2 532.9L1725.7 531.4L1727.2 530.0L1728.7 528.4L1730.2 526.9L1731.7 525.5L1733.2 523.7L1734.7 521.8L1736.2 520.1L1737.7 518.2L1739.2 515.6L1740.7 512.7L1742.2 510.4L1743.7 507.9L1745.2 504.7L1746.7 501.4L1748.2 498.1L1749.7 494.5L1751.2 490.9L1752.7 487.3L1754.2 483.1L1755.7 478.4L1757.2 473.6L1758.7 468.8L1760.2 463.6L1761.7 457.9L1763.2 452.0L1764.7 445.8L1766.2 439.2L1767.7 432.0L1769.2 424.3L1770.7 416.7L1772.2 408.6L1773.7 399.9L1775.2 391.2L1776.7 382.1L1778.2 372.6L1779.7 362.8L1781.2 352.8L1782.7 342.7L1784.2 332.1L1785.7 321.0L1787.2 309.6L1788.7 298.4L1790.2 287.1L1791.7 275.4L1793.2 263.7L1794.7 252.3L1796.2 241.3L1797.7 230.5L1799.2 220.0L1800.7 209.9L1802.2 200.5L1803.7 191.9L1805.2 184.1L1806.7 177.4L1808.2 172.1L1809.7 167.9L1811.2 164.9L1812.7 163.5L1814.2 163.3L1815.7 164.1L1817.2 166.3L1818.7 170.0L1820.2 175.1L1821.7 181.3L1823.2 188.4L1824.7 196.4L1826.2 204.9L1827.7 213.5L1829.2 222.6L1830.7 232.6L1832.2 243.1L1833.7 253.9L1835.2 265.0L1836.7 275.8L1838.2 286.3L1839.7 296.9L1841.2 307.5L1842.7 317.8L1844.2 328.0L1845.7 338.1L1847.2 347.4L1848.7 356.5L1850.2 365.6L1851.7 374.3L1853.2 382.5L1854.7 390.2L1856.2 397.7L1857.7 405.1L1859.2 412.3L1860.7 419.1L1862.2 425.3L1863.7 431.2L1865.2 437.3L1866.7 443.1L1868.2 448.7L1869.7 454.1L1871.2 459.3L1872.7 463.7L1874.2 467.9L1875.7 472.4L1877.2 476.7L1878.7 480.5L1880.2 484.2L1881.7 487.7L1883.2 491.1L1884.7 494.5L1886.2 498.0L1887.7 500.9L1889.2 503.6L1890.7 506.7L1892.2 509.4L1893.7 511.9L1895.2 514.5L1896.7 516.8L1898.2 518.7L1899.7 521.1L1901.2 523.5L1902.7 525.3L1904.2 526.9L1905.7 528.9L1907.2 531.2L1908.7 533.1L1910.2 534.4L1911.7 536.1L1913.2 538.0L1914.7 539.7L1916.2 541.3L1917.7 542.9L1919.2 544.1L1920.7 545.2L1922.2 546.5L1923.7 547.9L1925.2 549.5L1926.7 551.2L1928.2 552.6L1929.7 554.0L1931.2 555.1L1932.7 556.2L1934.2 557.1L1935.7 557.9L1937.2 559.0L1938.7 560.3L1940.2 561.5L1941.7 562.3L1943.2 562.9L1944.7 563.7L1946.2 564.9L1947.7 566.1L1949.2 567.0L1950.7 567.7L1952.2 568.4L1953.7 569.1L1955.2 569.8L1956.7 570.6L1958.2 571.4L1959.7 572.1L1961.2 572.6L1962.7 573.2L1964.2 573.9L1965.7 574.6L1967.2 575.4L1968.7 576.0L1970.2 576.2L1971.7 576.8L1973.2 577.6L1974.7 577.9L1976.2 578.0L1977.7 578.5L1979.2 578.9L1980.7 579.3L1982.2 579.6L1983.7 579.8L1985.2 580.1L1986.7 580.4L1988.2 580.2L1989.7 580.4L1991.2 580.6L1992.7 580.5L1994.2 580.3L1995.7 580.0L1997.2 579.6L1998.7 579.3L2000.2 579.0L2001.7 578.4L2003.2 577.7L2004.7 577.4L2006.2 576.9L2007.7 576.0L2009.2 575.2L2010.7 575.0L2012.2 574.7L2013.7 574.5L2015.2 574.4L2016.7 574.3L2018.2 574.6L2019.7 575.0L2021.2 575.3L2022.7 575.4L2024.2 575.7L2025.7 576.5L2027.2 577.3L2028.7 577.7L2030.2 578.0L2031.7 578.6L2033.2 579.2L2034.7 579.3L2036.2 579.7L2037.7 580.4L2039.2 580.9L2040.7 581.1"/>
</g>
<g fill="none" stroke="#9a9a9a" stroke-width="2">
<path d="M123.0 43.6H1534.8"/>
<path d="M1632.7 43.6H2034.1"/>
</g>
<g fill="none" stroke="#0d0d0d" stroke-width="2.3">
<path d="M121.5 40.4V1689.9M1536.3 40.4V1689.9M120.35 1689.9H1537.45"/>
<path d="M1631.2 40.4V1715.5M1630.05 1689.9H2036.6"/>
<path d="M177.1 1689.9v25.5"/>
<path d="M394.8 1689.9v25.5"/>
<path d="M612.5 1689.9v25.5"/>
<path d="M830.2 1689.9v25.5"/>
<path d="M1047.9 1689.9v25.5"/>
<path d="M1265.6 1689.9v25.5"/>
<path d="M1483.3 1689.9v25.5"/>
<path d="M285.9 1689.9v10.8"/>
<path d="M503.6 1689.9v10.8"/>
<path d="M721.4 1689.9v10.8"/>
<path d="M939.1 1689.9v10.8"/>
<path d="M1156.8 1689.9v10.8"/>
<path d="M1374.5 1689.9v10.8"/>
<path d="M1833.9 1689.9v25.5"/>
<path d="M1732.5 1689.9v10.8"/>
<path d="M1935.2 1689.9v10.8" stroke="#555"/>
</g>
<path d="M120.35 41.5H1537.45M1630.05 41.5H2036.6" fill="none" stroke="#363636" stroke-width="2.4"/>
<path d="M2036.6 40.3V1715.3000000000002" fill="none" stroke="#7a7a7a" stroke-width="4.2"/>
<g font-family="'Liberation Sans', Arial, Helvetica, sans-serif" fill="#000">
<g font-size="55.2">
<text transform="translate(178.2 1761.6) scale(0.955 1)" text-anchor="middle">100</text>
<text transform="translate(395.8 1761.6) scale(0.955 1)" text-anchor="middle">200</text>
<text transform="translate(613.6 1761.6) scale(0.955 1)" text-anchor="middle">300</text>
<text transform="translate(830.8 1761.6) scale(0.955 1)" text-anchor="middle">400</text>
<text transform="translate(1049.0 1761.6) scale(0.955 1)" text-anchor="middle">500</text>
<text transform="translate(1267.2 1761.6) scale(0.955 1)" text-anchor="middle">600</text>
<text transform="translate(1485.0 1761.6) scale(0.955 1)" text-anchor="middle">700</text>
<text transform="translate(1622.2 1761.6) scale(0.955 1)" text-anchor="middle">100</text>
<text transform="translate(1839.8 1761.6) scale(0.955 1)" text-anchor="middle">150</text>
<text transform="translate(2043.0 1761.6) scale(0.955 1)" text-anchor="middle">200</text>
</g>
<g font-weight="bold" font-size="66.3">
<text transform="translate(768.5 1841.6) scale(0.945 1)">Raman shift (cm<tspan font-size="45" dy="-16.7">-1</tspan><tspan dy="16.7">)</tspan></text>
<text transform="translate(75.7 1155.3) rotate(-90) scale(0.953 1)">Intensity (a.u.)</text>
<text transform="translate(500.0 549.1) scale(0.945 1)" fill="#0d7b0d">T40</text>
<text transform="translate(500.0 781.2) scale(0.945 1)" fill="#f01ef5">T30</text>
<text transform="translate(500.0 1019.6) scale(0.945 1)" fill="#1e1ef0">T20</text>
<text transform="translate(500.0 1257.3) scale(0.945 1)" fill="#ec0808">T10</text>
<text transform="translate(500.0 1426.5) scale(0.945 1)" fill="#060303">T00</text>
<text transform="translate(394.0 1565.3) scale(0.945 1)">Anatase TiO<tspan font-size="42" dx="6" dy="6.6">2</tspan></text>
</g>
<g font-weight="bold" font-size="63.0">
<text transform="translate(1421.0 103.1) scale(1.05 1)">(a)</text>
<text transform="translate(1932.5 103.1) scale(1.05 1)">(b)</text>
</g>
</g>
</svg>
</body>
</html>
